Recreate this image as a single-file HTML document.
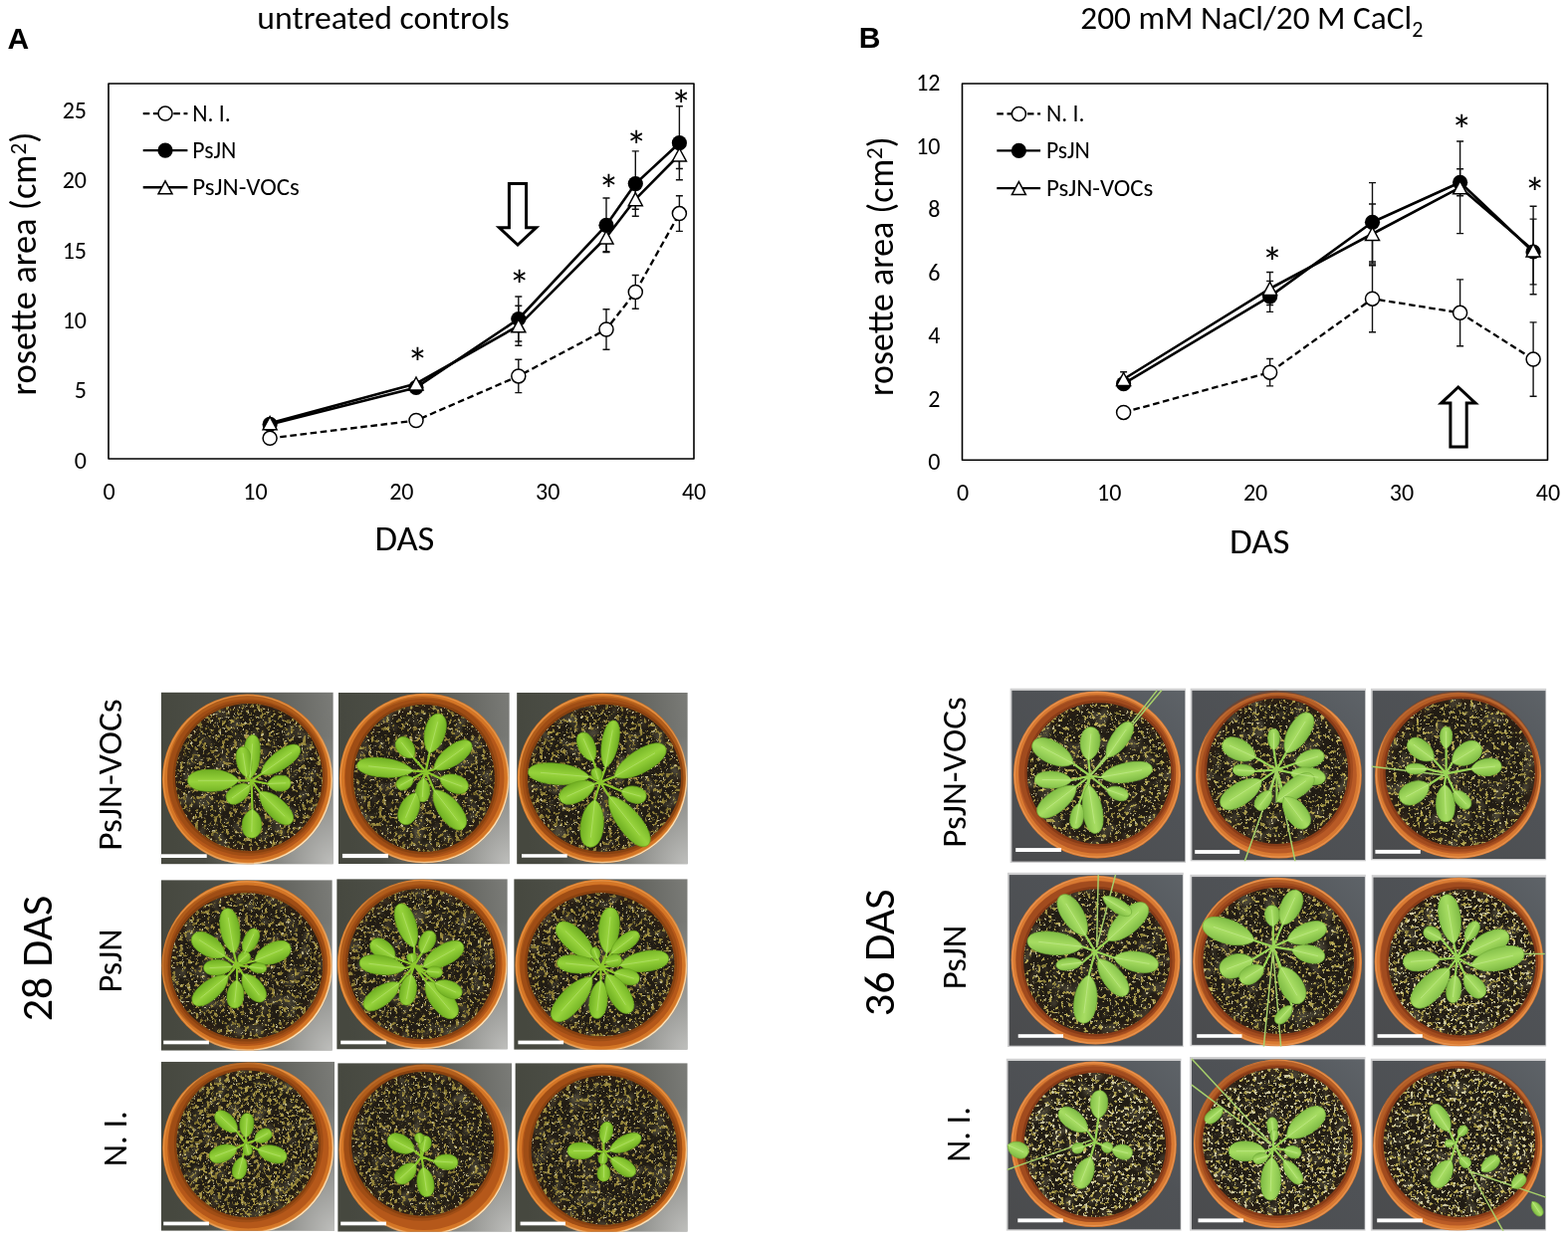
<!DOCTYPE html>
<html><head><meta charset="utf-8"><title>Figure</title>
<style>
html,body{margin:0;padding:0;background:#fff;}
svg{display:block;}
text{font-family:Carlito,"Liberation Sans",Arial,sans-serif;fill:#000;}
</style></head><body>
<svg width="1575" height="1247" viewBox="0 0 1575 1247">
<defs>
<linearGradient id="leafL" x1="0" y1="0" x2="0" y2="1">
 <stop offset="0" stop-color="#76b626"/><stop offset=".45" stop-color="#96d23c"/><stop offset=".55" stop-color="#92cf38"/><stop offset="1" stop-color="#6fae22"/>
</linearGradient>
<linearGradient id="leafR" x1="0" y1="0" x2="0" y2="1">
 <stop offset="0" stop-color="#84c04a"/><stop offset=".45" stop-color="#a6dc62"/><stop offset=".55" stop-color="#a2d95e"/><stop offset="1" stop-color="#7eba44"/>
</linearGradient>
<linearGradient id="bgL" x1="0" y1=".2" x2="1" y2=".1">
 <stop offset="0" stop-color="#46483f"/><stop offset=".45" stop-color="#4f514a"/><stop offset=".8" stop-color="#6a6b66"/><stop offset="1" stop-color="#7a7b77"/>
</linearGradient>
<radialGradient id="bgL2" cx="1" cy="1" r=".75">
 <stop offset="0" stop-color="#d8d8d6" stop-opacity=".75"/><stop offset=".5" stop-color="#c8c8c6" stop-opacity=".35"/><stop offset="1" stop-color="#c8c8c6" stop-opacity="0"/>
</radialGradient>
<linearGradient id="rimHL" x1="0" y1="0" x2="1" y2="1">
 <stop offset=".55" stop-color="#fff2d0" stop-opacity="0"/><stop offset=".85" stop-color="#fff2d0" stop-opacity=".9"/>
</linearGradient>
<linearGradient id="bgR" x1="0" y1="1" x2="1" y2="0">
 <stop offset="0" stop-color="#4a4b4d"/><stop offset=".6" stop-color="#4f5256"/><stop offset="1" stop-color="#5e6368"/>
</linearGradient>
<radialGradient id="potG" cx=".5" cy=".5" r=".5">
 <stop offset=".8" stop-color="#b8561a"/><stop offset=".9" stop-color="#c9651f"/><stop offset=".97" stop-color="#d97a34"/><stop offset="1" stop-color="#c8652a"/>
</radialGradient>
<radialGradient id="soilG" cx=".5" cy=".5" r=".5">
 <stop offset="0" stop-color="#221d15"/><stop offset=".88" stop-color="#211c14"/><stop offset="1" stop-color="#2e2014"/>
</radialGradient>
<filter id="spk0" x="0" y="0" width="1" height="1" color-interpolation-filters="sRGB">
 <feTurbulence type="fractalNoise" baseFrequency=".07" numOctaves="2" seed="2"/>
 <feColorMatrix type="matrix" values="0 0 0 0 .3  0 0 0 0 .28  0 0 0 0 .22  3 0 0 0 -1.5"/>
 <feComposite in2="SourceAlpha" operator="in"/>
</filter>
<filter id="spkA" x="0" y="0" width="1" height="1" color-interpolation-filters="sRGB">
 <feTurbulence type="fractalNoise" baseFrequency=".26" numOctaves="3" seed="4"/>
 <feColorMatrix type="matrix" values="0 .45 0 0 .34  0 .43 0 0 .29  0 .25 0 0 .1  11 0 0 0 -6.1"/>
 <feGaussianBlur stdDeviation=".5"/>
 <feComposite in2="SourceAlpha" operator="in"/>
</filter>
<filter id="spkB" x="0" y="0" width="1" height="1" color-interpolation-filters="sRGB">
 <feTurbulence type="fractalNoise" baseFrequency=".26" numOctaves="3" seed="9"/>
 <feColorMatrix type="matrix" values="0 .45 0 0 .36  0 .43 0 0 .31  0 .25 0 0 .11  11 0 0 0 -5.8"/>
 <feGaussianBlur stdDeviation=".5"/>
 <feComposite in2="SourceAlpha" operator="in"/>
</filter>
<filter id="spkR" x="0" y="0" width="1" height="1" color-interpolation-filters="sRGB">
 <feTurbulence type="fractalNoise" baseFrequency=".26" numOctaves="3" seed="5"/>
 <feColorMatrix type="matrix" values="0 .5 0 0 .4  0 .48 0 0 .36  0 .3 0 0 .14  12 0 0 0 -7"/>
 <feGaussianBlur stdDeviation=".5"/>
 <feComposite in2="SourceAlpha" operator="in"/>
</filter>
<filter id="spkW2" x="0" y="0" width="1" height="1" color-interpolation-filters="sRGB">
 <feTurbulence type="fractalNoise" baseFrequency=".3" numOctaves="2" seed="17"/>
 <feColorMatrix type="matrix" values="0 0 0 0 .82  0 0 0 0 .8  0 0 0 0 .64  0 13 0 0 -7.9"/>
 <feGaussianBlur stdDeviation=".45"/>
 <feComposite in2="SourceAlpha" operator="in"/>
</filter>
<filter id="spkW" x="0" y="0" width="1" height="1" color-interpolation-filters="sRGB">
 <feTurbulence type="fractalNoise" baseFrequency=".35" numOctaves="2" seed="11"/>
 <feColorMatrix type="matrix" values="0 0 0 0 .75  0 0 0 0 .72  0 0 0 0 .55  0 14 0 0 -9.4"/>
 <feGaussianBlur stdDeviation=".4"/>
 <feComposite in2="SourceAlpha" operator="in"/>
</filter>
</defs>
<rect width="1575" height="1247" fill="#fff"/>
<text x="258.3" y="28.8" font-size="33.7" textLength="253.5" lengthAdjust="spacingAndGlyphs">untreated controls</text>
<text x="1085.3" y="28.6" font-size="33.3" textLength="344" lengthAdjust="spacingAndGlyphs">200 mM NaCl/20 M CaCl<tspan font-size="22" dy="8">2</tspan></text>
<text x="7.4" y="48.6" style="font-family:&quot;Liberation Sans&quot;,Arial,sans-serif;font-weight:bold;font-size:30px">A</text>
<text x="862.8" y="48" style="font-family:&quot;Liberation Sans&quot;,Arial,sans-serif;font-weight:bold;font-size:30px">B</text>
<rect x="109" y="84" width="588" height="377" fill="none" stroke="#000" stroke-width="1.6" stroke-linejoin="round"/>
<text x="87" y="470.5" text-anchor="end" font-size="24">0</text>
<text x="87" y="400.2" text-anchor="end" font-size="24">5</text>
<text x="87" y="329.9" text-anchor="end" font-size="24">10</text>
<text x="87" y="259.6" text-anchor="end" font-size="24">15</text>
<text x="87" y="189.3" text-anchor="end" font-size="24">20</text>
<text x="87" y="119" text-anchor="end" font-size="24">25</text>
<text x="109.5" y="501.5" text-anchor="middle" font-size="24">0</text>
<text x="256.4" y="501.5" text-anchor="middle" font-size="24">10</text>
<text x="403.3" y="501.5" text-anchor="middle" font-size="24">20</text>
<text x="550.2" y="501.5" text-anchor="middle" font-size="24">30</text>
<text x="697.1" y="501.5" text-anchor="middle" font-size="24">40</text>
<path d="M520.8 361.2V394.6M517.3 361.2H524.3M517.3 394.6H524.3" stroke="#111" stroke-width="1.4" fill="none"/>
<path d="M609 310.8V351.2M605.5 310.8H612.5M605.5 351.2H612.5" stroke="#111" stroke-width="1.4" fill="none"/>
<path d="M638.3 276.5V310.3M634.8 276.5H641.8M634.8 310.3H641.8" stroke="#111" stroke-width="1.4" fill="none"/>
<path d="M682.4 196.8V232.4M678.9 196.8H685.9M678.9 232.4H685.9" stroke="#111" stroke-width="1.4" fill="none"/>
<path d="M520.8 298V343M517.3 298H524.3M517.3 343H524.3" stroke="#111" stroke-width="1.4" fill="none"/>
<path d="M609 199V253.6M605.5 199H612.5M605.5 253.6H612.5" stroke="#111" stroke-width="1.4" fill="none"/>
<path d="M638.3 151.9V217.3M634.8 151.9H641.8M634.8 217.3H641.8" stroke="#111" stroke-width="1.4" fill="none"/>
<path d="M682.4 106.7V180.7M678.9 106.7H685.9M678.9 180.7H685.9" stroke="#111" stroke-width="1.4" fill="none"/>
<path d="M520.8 307.3V347.3M517.3 307.3H524.3M517.3 347.3H524.3" stroke="#111" stroke-width="1.4" fill="none"/>
<path d="M609 224.2V252.8M605.5 224.2H612.5M605.5 252.8H612.5" stroke="#111" stroke-width="1.4" fill="none"/>
<path d="M638.3 190.2V210.2M634.8 190.2H641.8M634.8 210.2H641.8" stroke="#111" stroke-width="1.4" fill="none"/>
<path d="M682.4 141.5V169.5M678.9 141.5H685.9M678.9 169.5H685.9" stroke="#111" stroke-width="1.4" fill="none"/>
<path d="M271.1 440.3L418 422.5L520.8 377.9L609 331L638.3 293.4L682.4 214.6" fill="none" stroke="#000" stroke-width="2.3" stroke-dasharray="6.6 3.6" stroke-linecap="butt" stroke-linejoin="round"/>
<path d="M271.1 425.2L418 385.5L520.8 327.3L609 238.5L638.3 200.2L682.4 155.5" fill="none" stroke="#000" stroke-width="2.6" stroke-linejoin="round"/>
<path d="M271.1 426.4L418 389.4L520.8 320.5L609 226.3L638.3 184.6L682.4 143.7" fill="none" stroke="#000" stroke-width="2.6" stroke-linejoin="round"/>
<circle cx="271.1" cy="440.3" r="7" fill="#fff" stroke="#000" stroke-width="1.5"/>
<circle cx="418" cy="422.5" r="7" fill="#fff" stroke="#000" stroke-width="1.5"/>
<circle cx="520.8" cy="377.9" r="7" fill="#fff" stroke="#000" stroke-width="1.5"/>
<circle cx="609" cy="331" r="7" fill="#fff" stroke="#000" stroke-width="1.5"/>
<circle cx="638.3" cy="293.4" r="7" fill="#fff" stroke="#000" stroke-width="1.5"/>
<circle cx="682.4" cy="214.6" r="7" fill="#fff" stroke="#000" stroke-width="1.5"/>
<circle cx="271.1" cy="426.4" r="7.6" fill="#000"/>
<circle cx="418" cy="389.4" r="7.6" fill="#000"/>
<circle cx="520.8" cy="320.5" r="7.6" fill="#000"/>
<circle cx="609" cy="226.3" r="7.6" fill="#000"/>
<circle cx="638.3" cy="184.6" r="7.6" fill="#000"/>
<circle cx="682.4" cy="143.7" r="7.6" fill="#000"/>
<path d="M271.1 418.7L278.1 431.7L264.1 431.7Z" fill="#fff" stroke="#000" stroke-width="1.5" stroke-linejoin="miter"/>
<path d="M418 379L425 392L411 392Z" fill="#fff" stroke="#000" stroke-width="1.5" stroke-linejoin="miter"/>
<path d="M520.8 320.8L527.8 333.8L513.8 333.8Z" fill="#fff" stroke="#000" stroke-width="1.5" stroke-linejoin="miter"/>
<path d="M609 232L616 245L602 245Z" fill="#fff" stroke="#000" stroke-width="1.5" stroke-linejoin="miter"/>
<path d="M638.3 193.7L645.3 206.7L631.3 206.7Z" fill="#fff" stroke="#000" stroke-width="1.5" stroke-linejoin="miter"/>
<path d="M682.4 149L689.4 162L675.4 162Z" fill="#fff" stroke="#000" stroke-width="1.5" stroke-linejoin="miter"/>
<text x="419.4" y="379.9" text-anchor="middle" font-size="43">*</text>
<text x="521.7" y="302.3" text-anchor="middle" font-size="43">*</text>
<text x="611.4" y="206.4" text-anchor="middle" font-size="43">*</text>
<text x="639.2" y="161.7" text-anchor="middle" font-size="43">*</text>
<text x="684.3" y="121.3" text-anchor="middle" font-size="43">*</text>
<path d="M143.7 114.1H188.4" stroke="#000" stroke-width="2.2" stroke-dasharray="6.6 3.6"/>
<circle cx="166" cy="114.1" r="7" fill="#fff" stroke="#000" stroke-width="1.5"/>
<path d="M143.7 151.1H188.4M143.7 188.3H188.4" stroke="#000" stroke-width="2.4"/>
<circle cx="166" cy="151.1" r="7.6" fill="#000"/>
<path d="M166 181.8L173 194.8L159 194.8Z" fill="#fff" stroke="#000" stroke-width="1.5" stroke-linejoin="miter"/>
<text x="193.3" y="121.7" font-size="24" textLength="38.5" lengthAdjust="spacingAndGlyphs">N. I.</text>
<text x="193.3" y="158.7" font-size="24" textLength="44" lengthAdjust="spacingAndGlyphs">PsJN</text>
<text x="193.3" y="195.9" font-size="24" textLength="107.5" lengthAdjust="spacingAndGlyphs">PsJN-VOCs</text>
<text transform="translate(36.3 397.6) rotate(-90)" font-size="36" textLength="265" lengthAdjust="spacingAndGlyphs">rosette area (cm<tspan font-size="23" dy="-10.5">2</tspan><tspan dy="10.5">)</tspan></text>
<text x="376.4" y="552.5" font-size="35" textLength="60" lengthAdjust="spacingAndGlyphs">DAS</text>
<path d="M511.4 184.5H528.6V228.8H538.5L520 246L501.5 228.8H511.4Z" fill="#fff" stroke="#000" stroke-width="3" stroke-linejoin="miter" stroke-miterlimit="10"/>
<rect x="966.5" y="84" width="588" height="378.3" fill="none" stroke="#000" stroke-width="1.6" stroke-linejoin="round"/>
<text x="944.5" y="471.9" text-anchor="end" font-size="24">0</text>
<text x="944.5" y="408.5" text-anchor="end" font-size="24">2</text>
<text x="944.5" y="345" text-anchor="end" font-size="24">4</text>
<text x="944.5" y="281.6" text-anchor="end" font-size="24">6</text>
<text x="944.5" y="218.2" text-anchor="end" font-size="24">8</text>
<text x="944.5" y="154.8" text-anchor="end" font-size="24">10</text>
<text x="944.5" y="91.3" text-anchor="end" font-size="24">12</text>
<text x="967.2" y="503.3" text-anchor="middle" font-size="24">0</text>
<text x="1114.2" y="503.3" text-anchor="middle" font-size="24">10</text>
<text x="1261.1" y="503.3" text-anchor="middle" font-size="24">20</text>
<text x="1408" y="503.3" text-anchor="middle" font-size="24">30</text>
<text x="1555" y="503.3" text-anchor="middle" font-size="24">40</text>
<path d="M1275.6 360.5V387.9M1272.1 360.5H1279.1M1272.1 387.9H1279.1" stroke="#111" stroke-width="1.4" fill="none"/>
<path d="M1378.5 266.7V333.7M1375 266.7H1382M1375 333.7H1382" stroke="#111" stroke-width="1.4" fill="none"/>
<path d="M1466.6 280.9V347.7M1463.1 280.9H1470.1M1463.1 347.7H1470.1" stroke="#111" stroke-width="1.4" fill="none"/>
<path d="M1540.1 323.9V398.3M1536.6 323.9H1543.6M1536.6 398.3H1543.6" stroke="#111" stroke-width="1.4" fill="none"/>
<path d="M1275.6 282.4V313.4M1272.1 282.4H1279.1M1272.1 313.4H1279.1" stroke="#111" stroke-width="1.4" fill="none"/>
<path d="M1378.5 183.6V263M1375 183.6H1382M1375 263H1382" stroke="#111" stroke-width="1.4" fill="none"/>
<path d="M1466.6 169.8V196.8M1463.1 169.8H1470.1M1463.1 196.8H1470.1" stroke="#111" stroke-width="1.4" fill="none"/>
<path d="M1540.1 220.1V285.9M1536.6 220.1H1543.6M1536.6 285.9H1543.6" stroke="#111" stroke-width="1.4" fill="none"/>
<path d="M1128.6 373.8V388.2M1125.1 373.8H1132.1M1125.1 388.2H1132.1" stroke="#111" stroke-width="1.4" fill="none"/>
<path d="M1275.6 273.5V306.5M1272.1 273.5H1279.1M1272.1 306.5H1279.1" stroke="#111" stroke-width="1.4" fill="none"/>
<path d="M1378.5 205V265M1375 205H1382M1375 265H1382" stroke="#111" stroke-width="1.4" fill="none"/>
<path d="M1466.6 142V234.6M1463.1 142H1470.1M1463.1 234.6H1470.1" stroke="#111" stroke-width="1.4" fill="none"/>
<path d="M1540.1 207.2V295.8M1536.6 207.2H1543.6M1536.6 295.8H1543.6" stroke="#111" stroke-width="1.4" fill="none"/>
<path d="M1128.6 414.4L1275.6 374.2L1378.5 300.2L1466.6 314.3L1540.1 361.1" fill="none" stroke="#000" stroke-width="2.3" stroke-dasharray="6.6 3.6" stroke-linecap="butt" stroke-linejoin="round"/>
<path d="M1128.6 381L1275.6 290L1378.5 235L1466.6 188.3L1540.1 251.5" fill="none" stroke="#000" stroke-width="2.6" stroke-linejoin="round"/>
<path d="M1128.6 385.7L1275.6 297.9L1378.5 223.3L1466.6 183.3L1540.1 253" fill="none" stroke="#000" stroke-width="2.6" stroke-linejoin="round"/>
<circle cx="1128.6" cy="414.4" r="7" fill="#fff" stroke="#000" stroke-width="1.5"/>
<circle cx="1275.6" cy="374.2" r="7" fill="#fff" stroke="#000" stroke-width="1.5"/>
<circle cx="1378.5" cy="300.2" r="7" fill="#fff" stroke="#000" stroke-width="1.5"/>
<circle cx="1466.6" cy="314.3" r="7" fill="#fff" stroke="#000" stroke-width="1.5"/>
<circle cx="1540.1" cy="361.1" r="7" fill="#fff" stroke="#000" stroke-width="1.5"/>
<circle cx="1128.6" cy="385.7" r="7.6" fill="#000"/>
<circle cx="1275.6" cy="297.9" r="7.6" fill="#000"/>
<circle cx="1378.5" cy="223.3" r="7.6" fill="#000"/>
<circle cx="1466.6" cy="183.3" r="7.6" fill="#000"/>
<circle cx="1540.1" cy="253" r="7.6" fill="#000"/>
<path d="M1128.6 374.5L1135.6 387.5L1121.6 387.5Z" fill="#fff" stroke="#000" stroke-width="1.5" stroke-linejoin="miter"/>
<path d="M1275.6 283.5L1282.6 296.5L1268.6 296.5Z" fill="#fff" stroke="#000" stroke-width="1.5" stroke-linejoin="miter"/>
<path d="M1378.5 228.5L1385.5 241.5L1371.5 241.5Z" fill="#fff" stroke="#000" stroke-width="1.5" stroke-linejoin="miter"/>
<path d="M1466.6 181.8L1473.6 194.8L1459.6 194.8Z" fill="#fff" stroke="#000" stroke-width="1.5" stroke-linejoin="miter"/>
<path d="M1540.1 245L1547.1 258L1533.1 258Z" fill="#fff" stroke="#000" stroke-width="1.5" stroke-linejoin="miter"/>
<text x="1277.9" y="278.8" text-anchor="middle" font-size="43">*</text>
<text x="1468.2" y="146" text-anchor="middle" font-size="43">*</text>
<text x="1541.8" y="208.8" text-anchor="middle" font-size="43">*</text>
<path d="M1001.3 114.4H1045.1" stroke="#000" stroke-width="2.2" stroke-dasharray="6.6 3.6"/>
<circle cx="1023.4" cy="114.4" r="7" fill="#fff" stroke="#000" stroke-width="1.5"/>
<path d="M1001.3 151.4H1045.1M1001.3 189.1H1045.1" stroke="#000" stroke-width="2.4"/>
<circle cx="1023.4" cy="151.4" r="7.6" fill="#000"/>
<path d="M1023.4 182.6L1030.4 195.6L1016.4 195.6Z" fill="#fff" stroke="#000" stroke-width="1.5" stroke-linejoin="miter"/>
<text x="1050.9" y="122" font-size="24" textLength="38.5" lengthAdjust="spacingAndGlyphs">N. I.</text>
<text x="1050.9" y="159" font-size="24" textLength="44" lengthAdjust="spacingAndGlyphs">PsJN</text>
<text x="1050.9" y="196.7" font-size="24" textLength="107.5" lengthAdjust="spacingAndGlyphs">PsJN-VOCs</text>
<text transform="translate(896.5 397.9) rotate(-90)" font-size="36" textLength="260.5" lengthAdjust="spacingAndGlyphs">rosette area (cm<tspan font-size="23" dy="-10.5">2</tspan><tspan dy="10.5">)</tspan></text>
<text x="1235" y="556" font-size="35" textLength="60.5" lengthAdjust="spacingAndGlyphs">DAS</text>
<path d="M1456.9 449.1H1473.2V405.1H1482L1464.8 389L1447.6 405.1H1456.9Z" fill="#fff" stroke="#000" stroke-width="3" stroke-linejoin="miter" stroke-miterlimit="10"/>
<clipPath id="cL11"><rect x="161.7" y="695.6" width="173.1" height="172.8"/></clipPath>
<g clip-path="url(#cL11)">
<rect x="161.7" y="695.6" width="173.1" height="172.8" fill="url(#bgL)"/>
<rect x="161.7" y="695.6" width="173.1" height="172.8" fill="url(#bgL2)"/>
<circle cx="248.5" cy="783" r="85.5" fill="#d47626"/>
<circle cx="248.5" cy="783" r="84.2" fill="none" stroke="#e8984c" stroke-width="1.2" opacity=".8"/>
<circle cx="248.5" cy="783" r="84.9" fill="none" stroke="url(#rimHL)" stroke-width="1.3"/>
<circle cx="248.5" cy="783" r="80.5" fill="#b5581a"/>
<ellipse cx="248.5" cy="779.5" rx="80.5" ry="80.5" fill="#84400f" opacity=".45"/>
<ellipse cx="250" cy="781" rx="76.5" ry="76.5" fill="#84400f" opacity=".9"/>
<ellipse cx="250" cy="781" rx="74" ry="74" fill="url(#soilG)"/>
<ellipse cx="250" cy="781" rx="74" ry="74" fill="#000" filter="url(#spk0)"/>
<ellipse cx="250" cy="781" rx="74" ry="74" fill="#000" filter="url(#spkA)"/>
<ellipse cx="250" cy="781" rx="74" ry="74" fill="#000" filter="url(#spkW)"/>
<path d="M252.6 784.3L251 782.6M252.6 784.3L247.8 781M252.6 784.3L262.3 777.8M252.6 784.3L268.7 787.5M252.6 784.3L260.7 795.5M252.6 784.3L253.4 813.1M252.6 784.3L251 789.1M252.6 784.3L239.8 784.3" stroke="#8cc82c" stroke-width="2.2" fill="none" stroke-linecap="round"/>
<g fill="url(#leafL)" stroke="#68a41c" stroke-width=".7"><path transform="translate(251 782.6) rotate(-85.8)" d="M0 0C3.5 -4.6 12.4 -8.3 24.8 -8.3C38 -8.3 44.2 -4.6 44.2 0C44.2 4.6 38 8.3 24.8 8.3C12.4 8.3 3.5 4.6 0 0Z"/><path transform="translate(247.8 781) rotate(-99)" d="M0 0C2.5 -4.2 8.6 -7.6 17.3 -7.6C26.5 -7.6 30.9 -4.2 30.9 0C30.9 4.2 26.5 7.6 17.3 7.6C8.6 7.6 2.5 4.2 0 0Z"/><path transform="translate(262.3 777.8) rotate(-35.3)" d="M0 0C3.8 -4.9 13.2 -9 26.4 -9C40.6 -9 47.2 -4.9 47.2 0C47.2 4.9 40.6 9 26.4 9C13.2 9 3.8 4.9 0 0Z"/><path transform="translate(268.7 787.5) rotate(-2)" d="M0 0C1.9 -4.4 6.5 -7.9 13 -7.9C20 -7.9 23.3 -4.4 23.3 0C23.3 4.4 20 7.9 13 7.9C6.5 7.9 1.9 4.4 0 0Z"/><path transform="translate(260.7 795.5) rotate(44.3)" d="M0 0C3.6 -5.3 12.5 -9.7 25.1 -9.7C38.5 -9.7 44.8 -5.3 44.8 0C44.8 5.3 38.5 9.7 25.1 9.7C12.5 9.7 3.6 5.3 0 0Z"/><path transform="translate(253.4 813.1) rotate(91.6)" d="M0 0C2.3 -5.3 8.1 -9.7 16.2 -9.7C24.8 -9.7 28.9 -5.3 28.9 0C28.9 5.3 24.8 9.7 16.2 9.7C8.1 9.7 2.3 5.3 0 0Z"/><path transform="translate(251 789.1) rotate(144.5)" d="M0 0C2.2 -4.6 7.7 -8.3 15.5 -8.3C23.7 -8.3 27.6 -4.6 27.6 0C27.6 4.6 23.7 8.3 15.5 8.3C7.7 8.3 2.2 4.6 0 0Z"/><path transform="translate(239.8 784.3) rotate(180)" d="M0 0C4.1 -6.1 14.4 -11 28.7 -11C44.1 -11 51.3 -6.1 51.3 0C51.3 6.1 44.1 11 28.7 11C14.4 11 4.1 6.1 0 0Z"/></g>
<path d="M251 782.6L253.6 747.4M247.8 781L244 756.7M262.3 777.8L293.1 756M268.7 787.5L287.3 786.8M260.7 795.5L286.3 820.5M253.4 813.1L252.8 836.2M251 789.1L233.1 801.9M239.8 784.3L198.8 784.3" stroke="#b2e06a" stroke-width="1" fill="none" opacity=".8"/>
<rect x="162" y="858.3" width="45.7" height="3.7" fill="#fff"/>
</g>
<clipPath id="cL12"><rect x="339.8" y="695.9" width="172" height="172.4"/></clipPath>
<g clip-path="url(#cL12)">
<rect x="339.8" y="695.9" width="172" height="172.4" fill="url(#bgL)"/>
<rect x="339.8" y="695.9" width="172" height="172.4" fill="url(#bgL2)"/>
<circle cx="426.2" cy="782" r="85.3" fill="#d47626"/>
<circle cx="426.2" cy="782" r="84" fill="none" stroke="#e8984c" stroke-width="1.2" opacity=".8"/>
<circle cx="426.2" cy="782" r="84.7" fill="none" stroke="url(#rimHL)" stroke-width="1.3"/>
<circle cx="426.2" cy="782" r="80.3" fill="#b5581a"/>
<ellipse cx="424.4" cy="780.5" rx="77.5" ry="80.5" fill="#84400f" opacity=".45"/>
<ellipse cx="425.9" cy="782" rx="73.5" ry="76.5" fill="#84400f" opacity=".9"/>
<ellipse cx="425.9" cy="782" rx="71" ry="74" fill="url(#soilG)"/>
<ellipse cx="425.9" cy="782" rx="71" ry="74" fill="#000" filter="url(#spk0)"/>
<ellipse cx="425.9" cy="782" rx="71" ry="74" fill="#000" filter="url(#spkA)"/>
<ellipse cx="425.9" cy="782" rx="71" ry="74" fill="#000" filter="url(#spkW)"/>
<path d="M427.7 775.3L431.4 756.8M427.7 775.3L415.1 761.2M427.7 775.3L415.1 774.6M427.7 775.3L435.9 773.1M427.7 775.3L441.8 782M427.7 775.3L435.9 793.8M427.7 775.3L425.5 782M427.7 775.3L418.1 796.8M427.7 775.3L415.1 782" stroke="#8cc82c" stroke-width="2.2" fill="none" stroke-linecap="round"/>
<g fill="url(#leafL)" stroke="#68a41c" stroke-width=".7"><path transform="translate(431.4 756.8) rotate(-75.2)" d="M0 0C3.3 -5.6 11.4 -10.2 22.8 -10.2C35 -10.2 40.7 -5.6 40.7 0C40.7 5.6 35 10.2 22.8 10.2C11.4 10.2 3.3 5.6 0 0Z"/><path transform="translate(415.1 761.2) rotate(-127.6)" d="M0 0C1.9 -4.6 6.8 -8.3 13.6 -8.3C20.9 -8.3 24.3 -4.6 24.3 0C24.3 4.6 20.9 8.3 13.6 8.3C6.8 8.3 1.9 4.6 0 0Z"/><path transform="translate(415.1 774.6) rotate(-174)" d="M0 0C4.5 -5.3 15.9 -9.6 31.7 -9.6C48.7 -9.6 56.7 -5.3 56.7 0C56.7 5.3 48.7 9.6 31.7 9.6C15.9 9.6 4.5 5.3 0 0Z"/><path transform="translate(435.9 773.1) rotate(-35.8)" d="M0 0C3.7 -5.3 12.8 -9.6 25.6 -9.6C39.3 -9.6 45.7 -5.3 45.7 0C45.7 5.3 39.3 9.6 25.6 9.6C12.8 9.6 3.7 5.3 0 0Z"/><path transform="translate(441.8 782) rotate(20.2)" d="M0 0C2.4 -4.9 8.4 -8.9 16.8 -8.9C25.8 -8.9 30 -4.9 30 0C30 4.9 25.8 8.9 16.8 8.9C8.4 8.9 2.4 4.9 0 0Z"/><path transform="translate(435.9 793.8) rotate(52.4)" d="M0 0C3.9 -6 13.6 -10.8 27.3 -10.8C41.8 -10.8 48.7 -6 48.7 0C48.7 6 41.8 10.8 27.3 10.8C13.6 10.8 3.9 6 0 0Z"/><path transform="translate(425.5 782) rotate(93.6)" d="M0 0C1.9 -3.9 6.7 -7 13.3 -7C20.5 -7 23.8 -3.9 23.8 0C23.8 3.9 20.5 7 13.3 7C6.7 7 1.9 3.9 0 0Z"/><path transform="translate(418.1 796.8) rotate(113.2)" d="M0 0C2.7 -5.3 9.5 -9.6 19 -9.6C29.1 -9.6 33.9 -5.3 33.9 0C33.9 5.3 29.1 9.6 19 9.6C9.5 9.6 2.7 5.3 0 0Z"/><path transform="translate(415.1 782) rotate(151.4)" d="M0 0C1.5 -3.5 5.2 -6.4 10.4 -6.4C16 -6.4 18.6 -3.5 18.6 0C18.6 3.5 16 6.4 10.4 6.4C5.2 6.4 1.5 3.5 0 0Z"/></g>
<path d="M431.4 756.8L439.7 725.3M415.1 761.2L403.2 745.8M415.1 774.6L370 769.8M435.9 773.1L465.5 751.7M441.8 782L464.4 790.3M435.9 793.8L459.6 824.7M425.5 782L424.3 801M418.1 796.8L407.4 821.7M415.1 782L402.1 789.1" stroke="#b2e06a" stroke-width="1" fill="none" opacity=".8"/>
<rect x="343.9" y="857.9" width="46" height="4.2" fill="#fff"/>
</g>
<clipPath id="cL13"><rect x="519.1" y="695.9" width="171.7" height="172.5"/></clipPath>
<g clip-path="url(#cL13)">
<rect x="519.1" y="695.9" width="171.7" height="172.5" fill="url(#bgL)"/>
<rect x="519.1" y="695.9" width="171.7" height="172.5" fill="url(#bgL2)"/>
<circle cx="605" cy="782" r="85.3" fill="#d47626"/>
<circle cx="605" cy="782" r="84" fill="none" stroke="#e8984c" stroke-width="1.2" opacity=".8"/>
<circle cx="605" cy="782" r="84.7" fill="none" stroke="url(#rimHL)" stroke-width="1.3"/>
<circle cx="605" cy="782" r="80.3" fill="#b5581a"/>
<ellipse cx="605.5" cy="780.5" rx="83.5" ry="80.5" fill="#84400f" opacity=".45"/>
<ellipse cx="607" cy="782" rx="79.5" ry="76.5" fill="#84400f" opacity=".9"/>
<ellipse cx="607" cy="782" rx="77" ry="74" fill="url(#soilG)"/>
<ellipse cx="607" cy="782" rx="77" ry="74" fill="#000" filter="url(#spk0)"/>
<ellipse cx="607" cy="782" rx="77" ry="74" fill="#000" filter="url(#spkA)"/>
<ellipse cx="607" cy="782" rx="77" ry="74" fill="#000" filter="url(#spkW)"/>
<path d="M602.9 785.9L608.2 771.7M602.9 785.9L595.9 764.7M602.9 785.9L592.3 780.6M602.9 785.9L617 780.6M602.9 785.9L624.1 794.7M602.9 785.9L611.7 800M602.9 785.9L597.6 803.5M602.9 785.9L597.6 787.6M602.9 785.9L601.2 784.1" stroke="#8cc82c" stroke-width="2.2" fill="none" stroke-linecap="round"/>
<g fill="url(#leafL)" stroke="#68a41c" stroke-width=".7"><path transform="translate(608.2 771.7) rotate(-79.5)" d="M0 0C3.9 -4.6 13.6 -8.3 27.1 -8.3C41.7 -8.3 48.4 -4.6 48.4 0C48.4 4.6 41.7 8.3 27.1 8.3C13.6 8.3 3.9 4.6 0 0Z"/><path transform="translate(595.9 764.7) rotate(-113.6)" d="M0 0C2.5 -4.6 8.6 -8.3 17.3 -8.3C26.5 -8.3 30.8 -4.6 30.8 0C30.8 4.6 26.5 8.3 17.3 8.3C8.6 8.3 2.5 4.6 0 0Z"/><path transform="translate(592.3 780.6) rotate(-175.1)" d="M0 0C5 -5.8 17.4 -10.6 34.7 -10.6C53.3 -10.6 62 -5.8 62 0C62 5.8 53.3 10.6 34.7 10.6C17.4 10.6 5 5.8 0 0Z"/><path transform="translate(617 780.6) rotate(-30.4)" d="M0 0C4.7 -6.3 16.6 -11.4 33.2 -11.4C51 -11.4 59.3 -6.3 59.3 0C59.3 6.3 51 11.4 33.2 11.4C16.6 11.4 4.7 6.3 0 0Z"/><path transform="translate(624.1 794.7) rotate(15.9)" d="M0 0C2.1 -4.6 7.2 -8.3 14.4 -8.3C22.1 -8.3 25.7 -4.6 25.7 0C25.7 4.6 22.1 8.3 14.4 8.3C7.2 8.3 2.1 4.6 0 0Z"/><path transform="translate(611.7 800) rotate(51.8)" d="M0 0C5 -6.3 17.6 -11.4 35.2 -11.4C54 -11.4 62.8 -6.3 62.8 0C62.8 6.3 54 11.4 35.2 11.4C17.6 11.4 5 6.3 0 0Z"/><path transform="translate(597.6 803.5) rotate(96.3)" d="M0 0C3.8 -6.3 13.4 -11.4 26.8 -11.4C41.2 -11.4 47.9 -6.3 47.9 0C47.9 6.3 41.2 11.4 26.8 11.4C13.4 11.4 3.8 6.3 0 0Z"/><path transform="translate(597.6 787.6) rotate(155.8)" d="M0 0C3.1 -5.4 10.8 -9.9 21.7 -9.9C33.3 -9.9 38.7 -5.4 38.7 0C38.7 5.4 33.3 9.9 21.7 9.9C10.8 9.9 3.1 5.4 0 0Z"/><path transform="translate(601.2 784.1) rotate(-105.9)" d="M0 0C1 -2.9 3.6 -5.3 7.2 -5.3C11 -5.3 12.8 -2.9 12.8 0C12.8 2.9 11 5.3 7.2 5.3C3.6 5.3 1 2.9 0 0Z"/></g>
<path d="M608.2 771.7L615.3 733.6M595.9 764.7L586 742.1M592.3 780.6L542.9 776.3M617 780.6L658 756.6M624.1 794.7L643.8 800.3M611.7 800L642.8 839.5M597.6 803.5L593.4 841.6M597.6 787.6L569.4 800.3M601.2 784.1L598.3 774.2" stroke="#b2e06a" stroke-width="1" fill="none" opacity=".8"/>
<rect x="524" y="858.2" width="45.7" height="3.5" fill="#fff"/>
</g>
<clipPath id="cL21"><rect x="161.7" y="884.2" width="172.1" height="171.5"/></clipPath>
<g clip-path="url(#cL21)">
<rect x="161.7" y="884.2" width="172.1" height="171.5" fill="url(#bgL)"/>
<rect x="161.7" y="884.2" width="172.1" height="171.5" fill="url(#bgL2)"/>
<circle cx="248.1" cy="970.3" r="85.7" fill="#d47626"/>
<circle cx="248.1" cy="970.3" r="84.4" fill="none" stroke="#e8984c" stroke-width="1.2" opacity=".8"/>
<circle cx="248.1" cy="970.3" r="85.1" fill="none" stroke="url(#rimHL)" stroke-width="1.3"/>
<circle cx="248.1" cy="970.3" r="80.7" fill="#b5581a"/>
<ellipse cx="246.2" cy="969.2" rx="82.9" ry="79.9" fill="#84400f" opacity=".45"/>
<ellipse cx="247.7" cy="970.7" rx="78.9" ry="75.9" fill="#84400f" opacity=".9"/>
<ellipse cx="247.7" cy="970.7" rx="76.4" ry="73.4" fill="url(#soilG)"/>
<ellipse cx="247.7" cy="970.7" rx="76.4" ry="73.4" fill="#000" filter="url(#spk0)"/>
<ellipse cx="247.7" cy="970.7" rx="76.4" ry="73.4" fill="#000" filter="url(#spkA)"/>
<ellipse cx="247.7" cy="970.7" rx="76.4" ry="73.4" fill="#000" filter="url(#spkW)"/>
<path d="M238.1 969.9L235.1 958.1M238.1 969.9L226.2 961M238.1 969.9L245.5 958.1M238.1 969.9L255.9 965.5M238.1 969.9L249.9 971.4M238.1 969.9L239.6 967M238.1 969.9L233.6 971.4M238.1 969.9L229.2 980.3M238.1 969.9L238.1 984.8M238.1 969.9L244 978.8" stroke="#8cc82c" stroke-width="2.2" fill="none" stroke-linecap="round"/>
<g fill="url(#leafL)" stroke="#68a41c" stroke-width=".7"><path transform="translate(235.1 958.1) rotate(-99.3)" d="M0 0C3.7 -5.3 12.8 -9.6 25.7 -9.6C39.4 -9.6 45.8 -5.3 45.8 0C45.8 5.3 39.4 9.6 25.7 9.6C12.8 9.6 3.7 5.3 0 0Z"/><path transform="translate(226.2 961) rotate(-147.5)" d="M0 0C3.1 -5.6 10.8 -10.2 21.7 -10.2C33.3 -10.2 38.7 -5.6 38.7 0C38.7 5.6 33.3 10.2 21.7 10.2C10.8 10.2 3.1 5.6 0 0Z"/><path transform="translate(245.5 958.1) rotate(-64.1)" d="M0 0C2.2 -3.9 7.6 -7 15.2 -7C23.4 -7 27.2 -3.9 27.2 0C27.2 3.9 23.4 7 15.2 7C7.6 7 2.2 3.9 0 0Z"/><path transform="translate(255.9 965.5) rotate(-22.6)" d="M0 0C3.1 -5.6 10.8 -10.2 21.6 -10.2C33.2 -10.2 38.6 -5.6 38.6 0C38.6 5.6 33.2 10.2 21.6 10.2C10.8 10.2 3.1 5.6 0 0Z"/><path transform="translate(249.9 971.4) rotate(7.1)" d="M0 0C1.4 -2.8 5 -5.1 10 -5.1C15.4 -5.1 17.9 -2.8 17.9 0C17.9 2.8 15.4 5.1 10 5.1C5 5.1 1.4 2.8 0 0Z"/><path transform="translate(239.6 967) rotate(-40.6)" d="M0 0C1.1 -3.2 3.8 -5.7 7.7 -5.7C11.8 -5.7 13.7 -3.2 13.7 0C13.7 3.2 11.8 5.7 7.7 5.7C3.8 5.7 1.1 3.2 0 0Z"/><path transform="translate(233.6 971.4) rotate(177.1)" d="M0 0C2.3 -4.2 8.1 -7.7 16.2 -7.7C24.9 -7.7 29 -4.2 29 0C29 4.2 24.9 7.7 16.2 7.7C8.1 7.7 2.3 4.2 0 0Z"/><path transform="translate(229.2 980.3) rotate(141)" d="M0 0C3.6 -5.3 12.6 -9.6 25.1 -9.6C38.6 -9.6 44.8 -5.3 44.8 0C44.8 5.3 38.6 9.6 25.1 9.6C12.6 9.6 3.6 5.3 0 0Z"/><path transform="translate(238.1 984.8) rotate(96)" d="M0 0C2.3 -4.6 7.9 -8.3 15.9 -8.3C24.4 -8.3 28.3 -4.6 28.3 0C28.3 4.6 24.4 8.3 15.9 8.3C7.9 8.3 2.3 4.6 0 0Z"/><path transform="translate(244 978.8) rotate(52.1)" d="M0 0C2.7 -4.9 9.5 -8.9 18.9 -8.9C29.1 -8.9 33.8 -4.9 33.8 0C33.8 4.9 29.1 8.9 18.9 8.9C9.5 8.9 2.7 4.9 0 0Z"/></g>
<path d="M235.1 958.1L229.2 921.9M226.2 961L200.1 944.4M245.5 958.1L255 938.5M255.9 965.5L284.4 953.6M249.9 971.4L264.2 973.2M239.6 967L247.9 959.9M233.6 971.4L210.5 972.6M229.2 980.3L201.3 1002.9M238.1 984.8L235.7 1007.3M244 978.8L260.6 1000.2" stroke="#b2e06a" stroke-width="1" fill="none" opacity=".8"/>
<rect x="164.2" y="1045.6" width="45.7" height="3.7" fill="#fff"/>
</g>
<clipPath id="cL22"><rect x="338.2" y="883.2" width="171.6" height="171.3"/></clipPath>
<g clip-path="url(#cL22)">
<rect x="338.2" y="883.2" width="171.6" height="171.3" fill="url(#bgL)"/>
<rect x="338.2" y="883.2" width="171.6" height="171.3" fill="url(#bgL2)"/>
<circle cx="424.2" cy="968.9" r="85.3" fill="#d47626"/>
<circle cx="424.2" cy="968.9" r="84" fill="none" stroke="#e8984c" stroke-width="1.2" opacity=".8"/>
<circle cx="424.2" cy="968.9" r="84.7" fill="none" stroke="url(#rimHL)" stroke-width="1.3"/>
<circle cx="424.2" cy="968.9" r="80.3" fill="#b5581a"/>
<ellipse cx="422" cy="967" rx="80.7" ry="82.1" fill="#84400f" opacity=".45"/>
<ellipse cx="423.5" cy="968.5" rx="76.7" ry="78.1" fill="#84400f" opacity=".9"/>
<ellipse cx="423.5" cy="968.5" rx="74.2" ry="75.6" fill="url(#soilG)"/>
<ellipse cx="423.5" cy="968.5" rx="74.2" ry="75.6" fill="#000" filter="url(#spk0)"/>
<ellipse cx="423.5" cy="968.5" rx="74.2" ry="75.6" fill="#000" filter="url(#spkA)"/>
<ellipse cx="423.5" cy="968.5" rx="74.2" ry="75.6" fill="#000" filter="url(#spkW)"/>
<path d="M416.1 969.9L416.1 952.1M416.1 969.9L423.5 958.1M416.1 969.9L425 971.4M416.1 969.9L427.9 975.9M416.1 969.9L396.8 962.5M416.1 969.9L407.2 972.9M416.1 969.9L401.2 987.7M416.1 969.9L413.1 978.8M416.1 969.9L427.9 986.3M416.1 969.9L436.8 987.7M416.1 969.9L414.6 967" stroke="#8cc82c" stroke-width="2.2" fill="none" stroke-linecap="round"/>
<g fill="url(#leafL)" stroke="#68a41c" stroke-width=".7"><path transform="translate(416.1 952.1) rotate(-108.7)" d="M0 0C3.7 -5.3 12.9 -9.6 25.9 -9.6C39.7 -9.6 46.2 -5.3 46.2 0C46.2 5.3 39.7 9.6 25.9 9.6C12.9 9.6 3.7 5.3 0 0Z"/><path transform="translate(423.5 958.1) rotate(-65)" d="M0 0C2 -4.2 6.9 -7.7 13.8 -7.7C21.1 -7.7 24.6 -4.2 24.6 0C24.6 4.2 21.1 7.7 13.8 7.7C6.9 7.7 2 4.2 0 0Z"/><path transform="translate(425 971.4) rotate(-29.1)" d="M0 0C3.7 -5.6 12.8 -10.2 25.7 -10.2C39.4 -10.2 45.8 -5.6 45.8 0C45.8 5.6 39.4 10.2 25.7 10.2C12.8 10.2 3.7 5.6 0 0Z"/><path transform="translate(427.9 975.9) rotate(5.2)" d="M0 0C1.3 -3.2 4.6 -5.7 9.2 -5.7C14.1 -5.7 16.4 -3.2 16.4 0C16.4 3.2 14.1 5.7 9.2 5.7C4.6 5.7 1.3 3.2 0 0Z"/><path transform="translate(396.8 962.5) rotate(-145.5)" d="M0 0C2.3 -4.9 8.1 -8.9 16.1 -8.9C24.8 -8.9 28.8 -4.9 28.8 0C28.8 4.9 24.8 8.9 16.1 8.9C8.1 8.9 2.3 4.9 0 0Z"/><path transform="translate(407.2 972.9) rotate(-172.6)" d="M0 0C3.7 -5.3 13 -9.6 26 -9.6C39.9 -9.6 46.4 -5.3 46.4 0C46.4 5.3 39.9 9.6 26 9.6C13 9.6 3.7 5.3 0 0Z"/><path transform="translate(401.2 987.7) rotate(144.1)" d="M0 0C3.4 -5.3 12 -9.6 24.1 -9.6C37 -9.6 43 -5.3 43 0C43 5.3 37 9.6 24.1 9.6C12 9.6 3.4 5.3 0 0Z"/><path transform="translate(413.1 978.8) rotate(100.8)" d="M0 0C2.5 -4.6 8.9 -8.3 17.8 -8.3C27.3 -8.3 31.7 -4.6 31.7 0C31.7 4.6 27.3 8.3 17.8 8.3C8.9 8.3 2.5 4.6 0 0Z"/><path transform="translate(427.9 986.3) rotate(50.2)" d="M0 0C3.7 -6 13 -10.8 26 -10.8C39.9 -10.8 46.3 -6 46.3 0C46.3 6 39.9 10.8 26 10.8C13 10.8 3.7 6 0 0Z"/><path transform="translate(436.8 987.7) rotate(24)" d="M0 0C2.3 -4.6 8.2 -8.3 16.4 -8.3C25.1 -8.3 29.2 -4.6 29.2 0C29.2 4.6 25.1 8.3 16.4 8.3C8.2 8.3 2.3 4.6 0 0Z"/><path transform="translate(414.6 967) rotate(-99.5)" d="M0 0C0.7 -2.8 2.5 -5.1 5.1 -5.1C7.8 -5.1 9 -2.8 9 0C9 2.8 7.8 5.1 5.1 5.1C2.5 5.1 0.7 2.8 0 0Z"/></g>
<path d="M416.1 952.1L404.2 917.1M423.5 958.1L431.8 940.3M425 971.4L457 953.6M427.9 975.9L441 977.1M396.8 962.5L377.8 949.5M407.2 972.9L370.4 968.2M401.2 987.7L373.4 1007.9M413.1 978.8L408.4 1003.8M427.9 986.3L451.7 1014.7M436.8 987.7L458.2 997.2M414.6 967L413.4 959.9" stroke="#b2e06a" stroke-width="1" fill="none" opacity=".8"/>
<rect x="342.2" y="1045.6" width="45.7" height="3.7" fill="#fff"/>
</g>
<clipPath id="cL23"><rect x="516.2" y="883.2" width="174.5" height="171.6"/></clipPath>
<g clip-path="url(#cL23)">
<rect x="516.2" y="883.2" width="174.5" height="171.6" fill="url(#bgL)"/>
<rect x="516.2" y="883.2" width="174.5" height="171.6" fill="url(#bgL2)"/>
<circle cx="603.8" cy="970" r="86.4" fill="#d47626"/>
<circle cx="603.8" cy="970" r="85.1" fill="none" stroke="#e8984c" stroke-width="1.2" opacity=".8"/>
<circle cx="603.8" cy="970" r="85.8" fill="none" stroke="url(#rimHL)" stroke-width="1.3"/>
<circle cx="603.8" cy="970" r="81.4" fill="#b5581a"/>
<ellipse cx="602" cy="967.8" rx="80.5" ry="78.5" fill="#84400f" opacity=".45"/>
<ellipse cx="603.5" cy="969.3" rx="76.5" ry="74.5" fill="#84400f" opacity=".9"/>
<ellipse cx="603.5" cy="969.3" rx="74" ry="72" fill="url(#soilG)"/>
<ellipse cx="603.5" cy="969.3" rx="74" ry="72" fill="#000" filter="url(#spk0)"/>
<ellipse cx="603.5" cy="969.3" rx="74" ry="72" fill="#000" filter="url(#spkA)"/>
<ellipse cx="603.5" cy="969.3" rx="74" ry="72" fill="#000" filter="url(#spkW)"/>
<path d="M603.5 971.4L609.4 958.1M603.5 971.4L596 962.5M603.5 971.4L613.8 958.1M603.5 971.4L622.7 969.9M603.5 971.4L616.8 977.4M603.5 971.4L607.9 967M603.5 971.4L602 971.4M603.5 971.4L594.6 981.8M603.5 971.4L603.5 984.8M603.5 971.4L609.4 978.8M603.5 971.4L600.5 964" stroke="#8cc82c" stroke-width="2.2" fill="none" stroke-linecap="round"/>
<g fill="url(#leafL)" stroke="#68a41c" stroke-width=".7"><path transform="translate(609.4 958.1) rotate(-84.5)" d="M0 0C3.7 -5.6 12.9 -10.2 25.9 -10.2C39.7 -10.2 46.2 -5.6 46.2 0C46.2 5.6 39.7 10.2 25.9 10.2C12.9 10.2 3.7 5.6 0 0Z"/><path transform="translate(596 962.5) rotate(-136.2)" d="M0 0C3.9 -6 13.8 -10.8 27.6 -10.8C42.4 -10.8 49.3 -6 49.3 0C49.3 6 42.4 10.8 27.6 10.8C13.8 10.8 3.9 6 0 0Z"/><path transform="translate(613.8 958.1) rotate(-37.1)" d="M0 0C2.8 -4.2 9.6 -7.7 19.3 -7.7C29.6 -7.7 34.4 -4.2 34.4 0C34.4 4.2 29.6 7.7 19.3 7.7C9.6 7.7 2.8 4.2 0 0Z"/><path transform="translate(622.7 969.9) rotate(-8.6)" d="M0 0C4 -5.6 13.9 -10.2 27.7 -10.2C42.6 -10.2 49.5 -5.6 49.5 0C49.5 5.6 42.6 10.2 27.7 10.2C13.9 10.2 4 5.6 0 0Z"/><path transform="translate(616.8 977.4) rotate(16.4)" d="M0 0C2.1 -4.2 7.4 -7.7 14.7 -7.7C22.6 -7.7 26.3 -4.2 26.3 0C26.3 4.2 22.6 7.7 14.7 7.7C7.4 7.7 2.1 4.2 0 0Z"/><path transform="translate(607.9 967) rotate(-10.3)" d="M0 0C1.3 -3.5 4.6 -6.4 9.3 -6.4C14.3 -6.4 16.6 -3.5 16.6 0C16.6 3.5 14.3 6.4 9.3 6.4C4.6 6.4 1.3 3.5 0 0Z"/><path transform="translate(602 971.4) rotate(-174)" d="M0 0C3.4 -4.9 11.9 -8.9 23.8 -8.9C36.6 -8.9 42.5 -4.9 42.5 0C42.5 4.9 36.6 8.9 23.8 8.9C11.9 8.9 3.4 4.9 0 0Z"/><path transform="translate(594.6 981.8) rotate(131.9)" d="M0 0C4.6 -6.3 16.2 -11.5 32.4 -11.5C49.7 -11.5 57.8 -6.3 57.8 0C57.8 6.3 49.7 11.5 32.4 11.5C16.2 11.5 4.6 6.3 0 0Z"/><path transform="translate(603.5 984.8) rotate(96.6)" d="M0 0C3.1 -4.9 10.9 -8.9 21.7 -8.9C33.4 -8.9 38.8 -4.9 38.8 0C38.8 4.9 33.4 8.9 21.7 8.9C10.9 8.9 3.1 4.9 0 0Z"/><path transform="translate(609.4 978.8) rotate(58.4)" d="M0 0C3.6 -5.6 12.7 -10.2 25.4 -10.2C38.9 -10.2 45.3 -5.6 45.3 0C45.3 5.6 38.9 10.2 25.4 10.2C12.7 10.2 3.6 5.6 0 0Z"/><path transform="translate(600.5 964) rotate(-110.6)" d="M0 0C1 -2.5 3.5 -4.5 7.1 -4.5C10.9 -4.5 12.7 -2.5 12.7 0C12.7 2.5 10.9 4.5 7.1 4.5C3.5 4.5 1 2.5 0 0Z"/></g>
<path d="M609.4 958.1L613 921.3M596 962.5L567.6 935.2M613.8 958.1L635.8 941.5M622.7 969.9L661.9 964M616.8 977.4L637 983.3M607.9 967L621 964.6M602 971.4L568.2 967.9M594.6 981.8L563.7 1016.2M603.5 984.8L599.9 1015.6M609.4 978.8L628.4 1009.7M600.5 964L596.9 954.5" stroke="#b2e06a" stroke-width="1" fill="none" opacity=".8"/>
<rect x="520.4" y="1045.6" width="45.7" height="3.7" fill="#fff"/>
</g>
<clipPath id="cL31"><rect x="161.7" y="1066.7" width="174.3" height="170.1"/></clipPath>
<g clip-path="url(#cL31)">
<rect x="161.7" y="1066.7" width="174.3" height="170.1" fill="url(#bgL)"/>
<rect x="161.7" y="1066.7" width="174.3" height="170.1" fill="url(#bgL2)"/>
<circle cx="249.2" cy="1153.4" r="86" fill="#d47626"/>
<circle cx="249.2" cy="1153.4" r="84.7" fill="none" stroke="#e8984c" stroke-width="1.2" opacity=".8"/>
<circle cx="249.2" cy="1153.4" r="85.4" fill="none" stroke="url(#rimHL)" stroke-width="1.3"/>
<circle cx="249.2" cy="1153.4" r="81" fill="#b5581a"/>
<ellipse cx="247" cy="1147.9" rx="77.7" ry="80.3" fill="#84400f" opacity=".45"/>
<ellipse cx="248.5" cy="1149.4" rx="73.7" ry="76.3" fill="#84400f" opacity=".9"/>
<ellipse cx="248.5" cy="1149.4" rx="71.2" ry="73.8" fill="url(#soilG)"/>
<ellipse cx="248.5" cy="1149.4" rx="71.2" ry="73.8" fill="#000" filter="url(#spk0)"/>
<ellipse cx="248.5" cy="1149.4" rx="71.2" ry="73.8" fill="#000" filter="url(#spkB)"/>
<ellipse cx="248.5" cy="1149.4" rx="71.2" ry="73.8" fill="#000" filter="url(#spkW)"/>
<path d="M247 1149L238.1 1137.1M247 1149L247 1143.1M247 1149L255.9 1146M247 1149L258.8 1154.9M247 1149L238.1 1153.5M247 1149L244 1162.4M247 1149L247 1149" stroke="#8cc82c" stroke-width="2.2" fill="none" stroke-linecap="round"/>
<g fill="url(#leafL)" stroke="#68a41c" stroke-width=".7"><path transform="translate(238.1 1137.1) rotate(-137.1)" d="M0 0C2.3 -4.2 7.9 -7.7 15.9 -7.7C24.4 -7.7 28.3 -4.2 28.3 0C28.3 4.2 24.4 7.7 15.9 7.7C7.9 7.7 2.3 4.2 0 0Z"/><path transform="translate(247 1143.1) rotate(-86.5)" d="M0 0C2 -3.9 6.9 -7 13.7 -7C21.1 -7 24.5 -3.9 24.5 0C24.5 3.9 21.1 7 13.7 7C6.9 7 2 3.9 0 0Z"/><path transform="translate(255.9 1146) rotate(-28.6)" d="M0 0C1.5 -3.5 5.2 -6.4 10.4 -6.4C16 -6.4 18.6 -3.5 18.6 0C18.6 3.5 16 6.4 10.4 6.4C5.2 6.4 1.5 3.5 0 0Z"/><path transform="translate(258.8 1154.9) rotate(17.1)" d="M0 0C2.4 -4.6 8.5 -8.3 16.9 -8.3C26 -8.3 30.3 -4.6 30.3 0C30.3 4.6 26 8.3 16.9 8.3C8.5 8.3 2.4 4.6 0 0Z"/><path transform="translate(238.1 1153.5) rotate(159.3)" d="M0 0C2.3 -4.6 8.2 -8.3 16.4 -8.3C25.2 -8.3 29.3 -4.6 29.3 0C29.3 4.6 25.2 8.3 16.4 8.3C8.2 8.3 2.3 4.6 0 0Z"/><path transform="translate(244 1162.4) rotate(104.9)" d="M0 0C1.8 -3.9 6.4 -7 12.9 -7C19.8 -7 23 -3.9 23 0C23 3.9 19.8 7 12.9 7C6.4 7 1.8 3.9 0 0Z"/><path transform="translate(247 1149) rotate(76)" d="M0 0C1 -2.5 3.4 -4.5 6.9 -4.5C10.5 -4.5 12.2 -2.5 12.2 0C12.2 2.5 10.5 4.5 6.9 4.5C3.4 4.5 1 2.5 0 0Z"/></g>
<path d="M238.1 1137.1L221.5 1121.7M247 1143.1L248.2 1123.5M255.9 1146L268.9 1138.9M258.8 1154.9L282 1162.1M238.1 1153.5L216.1 1161.8M244 1162.4L239.3 1180.2M247 1149L249.3 1158.5" stroke="#b2e06a" stroke-width="1" fill="none" opacity=".8"/>
<rect x="164.2" y="1227.6" width="45.7" height="3.7" fill="#fff"/>
</g>
<clipPath id="cL32"><rect x="339.2" y="1068.2" width="174.8" height="169.5"/></clipPath>
<g clip-path="url(#cL32)">
<rect x="339.2" y="1068.2" width="174.8" height="169.5" fill="url(#bgL)"/>
<rect x="339.2" y="1068.2" width="174.8" height="169.5" fill="url(#bgL2)"/>
<circle cx="426.1" cy="1155.3" r="85.7" fill="#d47626"/>
<circle cx="426.1" cy="1155.3" r="84.4" fill="none" stroke="#e8984c" stroke-width="1.2" opacity=".8"/>
<circle cx="426.1" cy="1155.3" r="85.1" fill="none" stroke="url(#rimHL)" stroke-width="1.3"/>
<circle cx="426.1" cy="1155.3" r="80.7" fill="#b5581a"/>
<ellipse cx="423.1" cy="1147.9" rx="78.1" ry="78.8" fill="#84400f" opacity=".45"/>
<ellipse cx="424.6" cy="1149.4" rx="74.1" ry="74.8" fill="#84400f" opacity=".9"/>
<ellipse cx="424.6" cy="1149.4" rx="71.6" ry="72.3" fill="url(#soilG)"/>
<ellipse cx="424.6" cy="1149.4" rx="71.6" ry="72.3" fill="#000" filter="url(#spk0)"/>
<ellipse cx="424.6" cy="1149.4" rx="71.6" ry="72.3" fill="#000" filter="url(#spkA)"/>
<ellipse cx="424.6" cy="1149.4" rx="71.6" ry="72.3" fill="#000" filter="url(#spkW)"/>
<path d="M423.5 1162.4L416.1 1156.4M423.5 1162.4L425 1157.9M423.5 1162.4L422 1149M423.5 1162.4L435.4 1166.8M423.5 1162.4L417.6 1169.8M423.5 1162.4L425 1172.7" stroke="#8cc82c" stroke-width="2.2" fill="none" stroke-linecap="round"/>
<g fill="url(#leafL)" stroke="#68a41c" stroke-width=".7"><path transform="translate(416.1 1156.4) rotate(-152.8)" d="M0 0C2.3 -4.9 8.2 -8.9 16.3 -8.9C25.1 -8.9 29.2 -4.9 29.2 0C29.2 4.9 25.1 8.9 16.3 8.9C8.2 8.9 2.3 4.9 0 0Z"/><path transform="translate(425 1157.9) rotate(-79.7)" d="M0 0C1.3 -3.5 4.6 -6.4 9.3 -6.4C14.3 -6.4 16.6 -3.5 16.6 0C16.6 3.5 14.3 6.4 9.3 6.4C4.6 6.4 1.3 3.5 0 0Z"/><path transform="translate(422 1149) rotate(-98.1)" d="M0 0C0.8 -2.5 2.9 -4.5 5.9 -4.5C9 -4.5 10.5 -2.5 10.5 0C10.5 2.5 9 4.5 5.9 4.5C2.9 4.5 0.8 2.5 0 0Z"/><path transform="translate(435.4 1166.8) rotate(3.5)" d="M0 0C2 -4.2 6.9 -7.7 13.7 -7.7C21.1 -7.7 24.5 -4.2 24.5 0C24.5 4.2 21.1 7.7 13.7 7.7C6.9 7.7 2 4.2 0 0Z"/><path transform="translate(417.6 1169.8) rotate(137.3)" d="M0 0C2.1 -4.6 7.3 -8.3 14.7 -8.3C22.6 -8.3 26.2 -4.6 26.2 0C26.2 4.6 22.6 8.3 14.7 8.3C7.3 8.3 2.1 4.6 0 0Z"/><path transform="translate(425 1172.7) rotate(81.5)" d="M0 0C2.4 -4.6 8.4 -8.3 16.8 -8.3C25.8 -8.3 30 -4.6 30 0C30 4.6 25.8 8.3 16.8 8.3C8.4 8.3 2.4 4.6 0 0Z"/></g>
<path d="M416.1 1156.4L395.3 1145.7M425 1157.9L427.3 1144.9M422 1149L420.8 1140.7M435.4 1166.8L454.9 1168M417.6 1169.8L402.1 1184M425 1172.7L428.5 1196.5" stroke="#b2e06a" stroke-width="1" fill="none" opacity=".8"/>
<rect x="342.2" y="1227.6" width="45.7" height="3.7" fill="#fff"/>
</g>
<clipPath id="cL33"><rect x="517.4" y="1068.2" width="173.3" height="169.5"/></clipPath>
<g clip-path="url(#cL33)">
<rect x="517.4" y="1068.2" width="173.3" height="169.5" fill="url(#bgL)"/>
<rect x="517.4" y="1068.2" width="173.3" height="169.5" fill="url(#bgL2)"/>
<circle cx="604.7" cy="1155" r="85.5" fill="#d47626"/>
<circle cx="604.7" cy="1155" r="84.2" fill="none" stroke="#e8984c" stroke-width="1.2" opacity=".8"/>
<circle cx="604.7" cy="1155" r="84.9" fill="none" stroke="url(#rimHL)" stroke-width="1.3"/>
<circle cx="604.7" cy="1155" r="80.5" fill="#b5581a"/>
<ellipse cx="605.5" cy="1154.2" rx="79.9" ry="81.4" fill="#84400f" opacity=".45"/>
<ellipse cx="607" cy="1155.7" rx="75.9" ry="77.4" fill="#84400f" opacity=".9"/>
<ellipse cx="607" cy="1155.7" rx="73.4" ry="74.9" fill="url(#soilG)"/>
<ellipse cx="607" cy="1155.7" rx="73.4" ry="74.9" fill="#000" filter="url(#spk0)"/>
<ellipse cx="607" cy="1155.7" rx="73.4" ry="74.9" fill="#000" filter="url(#spkA)"/>
<ellipse cx="607" cy="1155.7" rx="73.4" ry="74.9" fill="#000" filter="url(#spkW)"/>
<path d="M606.4 1157.9L606.4 1149M606.4 1157.9L599 1156.4M606.4 1157.9L612.4 1156.4M606.4 1157.9L613.8 1163.8M606.4 1157.9L606.4 1169.8M606.4 1157.9L606.4 1157.9" stroke="#8cc82c" stroke-width="2.2" fill="none" stroke-linecap="round"/>
<g fill="url(#leafL)" stroke="#68a41c" stroke-width=".7"><path transform="translate(606.4 1149) rotate(-78.3)" d="M0 0C1.8 -3.5 6.2 -6.4 12.3 -6.4C18.9 -6.4 22 -3.5 22 0C22 3.5 18.9 6.4 12.3 6.4C6.2 6.4 1.8 3.5 0 0Z"/><path transform="translate(599 1156.4) rotate(180)" d="M0 0C2.3 -4.6 8.1 -8.3 16.2 -8.3C24.9 -8.3 28.9 -4.6 28.9 0C28.9 4.6 24.9 8.3 16.2 8.3C8.1 8.3 2.3 4.6 0 0Z"/><path transform="translate(612.4 1156.4) rotate(-25.5)" d="M0 0C2.8 -4.2 9.7 -7.7 19.3 -7.7C29.7 -7.7 34.5 -4.2 34.5 0C34.5 4.2 29.7 7.7 19.3 7.7C9.7 7.7 2.8 4.2 0 0Z"/><path transform="translate(613.8 1163.8) rotate(34.5)" d="M0 0C2.3 -4.2 8.1 -7.7 16.1 -7.7C24.8 -7.7 28.8 -4.2 28.8 0C28.8 4.2 24.8 7.7 16.1 7.7C8.1 7.7 2.3 4.2 0 0Z"/><path transform="translate(606.4 1169.8) rotate(90)" d="M0 0C1.4 -3.5 4.8 -6.4 9.6 -6.4C14.7 -6.4 17.1 -3.5 17.1 0C17.1 3.5 14.7 6.4 9.6 6.4C4.8 6.4 1.4 3.5 0 0Z"/><path transform="translate(606.4 1157.9) rotate(97.1)" d="M0 0C1 -2.5 3.3 -4.5 6.7 -4.5C10.3 -4.5 12 -2.5 12 0C12 2.5 10.3 4.5 6.7 4.5C3.3 4.5 1 2.5 0 0Z"/></g>
<path d="M606.4 1149L610 1131.8M599 1156.4L575.9 1156.4M612.4 1156.4L637.3 1144.6M613.8 1163.8L632.8 1176.9M606.4 1169.8L606.4 1183.4M606.4 1157.9L605.2 1167.4" stroke="#b2e06a" stroke-width="1" fill="none" opacity=".8"/>
<rect x="522.6" y="1227.6" width="45.3" height="3.7" fill="#fff"/>
</g>
<clipPath id="cR11"><rect x="1014.4" y="691.4" width="176.8" height="175.7"/></clipPath>
<g clip-path="url(#cR11)">
<rect x="1014.4" y="691.4" width="176.8" height="175.7" fill="#cfcfd0"/>
<rect x="1016.4" y="693.9" width="173.8" height="171.7" fill="url(#bgR)"/>
<circle cx="1102" cy="778.4" r="84" fill="#d97a32"/>
<circle cx="1102" cy="778.4" r="82.7" fill="none" stroke="#eb9a58" stroke-width="1.2" opacity=".8"/>
<circle cx="1102" cy="778.4" r="79" fill="#b85a26"/>
<ellipse cx="1102.5" cy="775.6" rx="78.9" ry="77.4" fill="#843a16" opacity=".45"/>
<ellipse cx="1104" cy="777.1" rx="74.9" ry="73.4" fill="#843a16" opacity=".9"/>
<ellipse cx="1104" cy="777.1" rx="72.4" ry="70.9" fill="url(#soilG)"/>
<ellipse cx="1104" cy="777.1" rx="72.4" ry="70.9" fill="#000" filter="url(#spk0)"/>
<ellipse cx="1104" cy="777.1" rx="72.4" ry="70.9" fill="#000" filter="url(#spkR)"/>
<ellipse cx="1104" cy="777.1" rx="72.4" ry="70.9" fill="#000" filter="url(#spkW)"/>
<path d="M1094.9 779.5L1078.1 767.3M1094.9 779.5L1093.4 764.2M1094.9 779.5L1111.7 761.2M1094.9 779.5L1105.6 781M1094.9 779.5L1076.6 784M1094.9 779.5L1081.2 790.1M1094.9 779.5L1093.4 788.6M1094.9 779.5L1111.7 793.2M1094.9 779.5L1084.2 806.9" stroke="#9ad456" stroke-width="2.2" fill="none" stroke-linecap="round"/>
<path d="M1094.9 779.5L1166.5 694.1M1096.4 777.9L1161.9 694.1" stroke="#a6cf6a" stroke-width="1.5" fill="none" stroke-linecap="round"/>
<g fill="url(#leafR)" stroke="#74b03a" stroke-width=".7"><path transform="translate(1078.1 767.3) rotate(-152.2)" d="M0 0C3.7 -6.1 12.8 -11.1 25.6 -11.1C39.3 -11.1 45.7 -6.1 45.7 0C45.7 6.1 39.3 11.1 25.6 11.1C12.8 11.1 3.7 6.1 0 0Z"/><path transform="translate(1093.4 764.2) rotate(-84.8)" d="M0 0C2.7 -5.4 9.4 -9.8 18.8 -9.8C28.9 -9.8 33.7 -5.4 33.7 0C33.7 5.4 28.9 9.8 18.8 9.8C9.4 9.8 2.7 5.4 0 0Z"/><path transform="translate(1111.7 761.2) rotate(-55.2)" d="M0 0C3.4 -4.7 12 -8.5 23.9 -8.5C36.7 -8.5 42.7 -4.7 42.7 0C42.7 4.7 36.7 8.5 23.9 8.5C12 8.5 3.4 4.7 0 0Z"/><path transform="translate(1105.6 781) rotate(-10)" d="M0 0C4.2 -5.4 14.7 -9.8 29.5 -9.8C45.2 -9.8 52.6 -5.4 52.6 0C52.6 5.4 45.2 9.8 29.5 9.8C14.7 9.8 4.2 5.4 0 0Z"/><path transform="translate(1076.6 784) rotate(-178.8)" d="M0 0C3 -4.7 10.5 -8.5 20.9 -8.5C32.1 -8.5 37.3 -4.7 37.3 0C37.3 4.7 32.1 8.5 20.9 8.5C10.5 8.5 3 4.7 0 0Z"/><path transform="translate(1081.2 790.1) rotate(142.8)" d="M0 0C3.8 -5.8 13.4 -10.5 26.8 -10.5C41.1 -10.5 47.8 -5.8 47.8 0C47.8 5.8 41.1 10.5 26.8 10.5C13.4 10.5 3.8 5.8 0 0Z"/><path transform="translate(1093.4 788.6) rotate(81.1)" d="M0 0C3.9 -5.4 13.8 -9.8 27.6 -9.8C42.4 -9.8 49.3 -5.4 49.3 0C49.3 5.4 42.4 9.8 27.6 9.8C13.8 9.8 3.9 5.4 0 0Z"/><path transform="translate(1111.7 793.2) rotate(19.7)" d="M0 0C1.8 -3.6 6.3 -6.6 12.7 -6.6C19.5 -6.6 22.7 -3.6 22.7 0C22.7 3.6 19.5 6.6 12.7 6.6C6.3 6.6 1.8 3.6 0 0Z"/><path transform="translate(1084.2 806.9) rotate(100)" d="M0 0C2.1 -3.6 7.4 -6.6 14.7 -6.6C22.6 -6.6 26.3 -3.6 26.3 0C26.3 3.6 22.6 6.6 14.7 6.6C7.4 6.6 2.1 3.6 0 0Z"/></g>
<path d="M1078.1 767.3L1045.8 750.2M1093.4 764.2L1095.8 737.4M1111.7 761.2L1131.2 733.1M1105.6 781L1147 773.7M1076.6 784L1046.7 783.4M1081.2 790.1L1050.7 813.3M1093.4 788.6L1099.5 827.6M1111.7 793.2L1128.7 799.3M1084.2 806.9L1080.6 827.6" stroke="#bfe888" stroke-width="1" fill="none" opacity=".8"/>
<rect x="1020.2" y="852.1" width="45.8" height="3.9" fill="#fff"/>
</g>
<clipPath id="cR12"><rect x="1195.4" y="691.4" width="176.7" height="174.2"/></clipPath>
<g clip-path="url(#cR12)">
<rect x="1195.4" y="691.4" width="176.7" height="174.2" fill="#cfcfd0"/>
<rect x="1197.4" y="693.9" width="173.7" height="170.2" fill="url(#bgR)"/>
<circle cx="1284.4" cy="779.1" r="83.4" fill="#d97a32"/>
<circle cx="1284.4" cy="779.1" r="82.1" fill="none" stroke="#eb9a58" stroke-width="1.2" opacity=".8"/>
<circle cx="1284.4" cy="779.1" r="78.4" fill="#b85a26"/>
<ellipse cx="1281.6" cy="773.4" rx="77.5" ry="79.6" fill="#843a16" opacity=".45"/>
<ellipse cx="1283.1" cy="774.9" rx="73.5" ry="75.6" fill="#843a16" opacity=".9"/>
<ellipse cx="1283.1" cy="774.9" rx="71" ry="73.1" fill="url(#soilG)"/>
<ellipse cx="1283.1" cy="774.9" rx="71" ry="73.1" fill="#000" filter="url(#spk0)"/>
<ellipse cx="1283.1" cy="774.9" rx="71" ry="73.1" fill="#000" filter="url(#spkR)"/>
<ellipse cx="1283.1" cy="774.9" rx="71" ry="73.1" fill="#000" filter="url(#spkW)"/>
<path d="M1282.5 773.4L1261.2 761.2M1282.5 773.4L1279.5 753.6M1282.5 773.4L1291.7 756.6M1282.5 773.4L1300.8 767.3M1282.5 773.4L1296.2 776.4M1282.5 773.4L1261.2 774.9M1282.5 773.4L1267.3 784M1282.5 773.4L1282.5 805.4M1282.5 773.4L1290.1 800.8M1282.5 773.4L1276.4 794.7" stroke="#9ad456" stroke-width="2.2" fill="none" stroke-linecap="round"/>
<path d="M1282.5 773.4L1250.5 864.8M1282.5 776.4L1300.8 864.8" stroke="#a6cf6a" stroke-width="1.5" fill="none" stroke-linecap="round"/>
<g fill="url(#leafR)" stroke="#74b03a" stroke-width=".7"><path transform="translate(1261.2 761.2) rotate(-155.1)" d="M0 0C2.9 -5.8 10.1 -10.5 20.2 -10.5C31.1 -10.5 36.1 -5.8 36.1 0C36.1 5.8 31.1 10.5 20.2 10.5C10.1 10.5 2.9 5.8 0 0Z"/><path transform="translate(1279.5 753.6) rotate(-90)" d="M0 0C1.7 -3.2 6 -5.9 11.9 -5.9C18.3 -5.9 21.3 -3.2 21.3 0C21.3 3.2 18.3 5.9 11.9 5.9C6 5.9 1.7 3.2 0 0Z"/><path transform="translate(1291.7 756.6) rotate(-58.4)" d="M0 0C3.7 -5.8 13 -10.5 26 -10.5C40 -10.5 46.5 -5.8 46.5 0C46.5 5.8 40 10.5 26 10.5C13 10.5 3.7 5.8 0 0Z"/><path transform="translate(1300.8 767.3) rotate(-17.5)" d="M0 0C2.4 -4.7 8.5 -8.5 17 -8.5C26.1 -8.5 30.4 -4.7 30.4 0C30.4 4.7 26.1 8.5 17 8.5C8.5 8.5 2.4 4.7 0 0Z"/><path transform="translate(1296.2 776.4) rotate(9.9)" d="M0 0C2.8 -4.7 10 -8.5 19.9 -8.5C30.6 -8.5 35.6 -4.7 35.6 0C35.6 4.7 30.6 8.5 19.9 8.5C10 8.5 2.8 4.7 0 0Z"/><path transform="translate(1261.2 774.9) rotate(-176.2)" d="M0 0C1.8 -3.2 6.4 -5.9 12.8 -5.9C19.7 -5.9 22.9 -3.2 22.9 0C22.9 3.2 19.7 5.9 12.8 5.9C6.4 5.9 1.8 3.2 0 0Z"/><path transform="translate(1267.3 784) rotate(147.3)" d="M0 0C3.8 -6.1 13.4 -11.1 26.9 -11.1C41.3 -11.1 48 -6.1 48 0C48 6.1 41.3 11.1 26.9 11.1C13.4 11.1 3.8 6.1 0 0Z"/><path transform="translate(1282.5 805.4) rotate(-35.3)" d="M0 0C3.6 -5.4 12.5 -9.8 25.1 -9.8C38.5 -9.8 44.8 -5.4 44.8 0C44.8 5.4 38.5 9.8 25.1 9.8C12.5 9.8 3.6 5.4 0 0Z"/><path transform="translate(1290.1 800.8) rotate(53.1)" d="M0 0C3 -5.8 10.7 -10.5 21.3 -10.5C32.8 -10.5 38.1 -5.8 38.1 0C38.1 5.8 32.8 10.5 21.3 10.5C10.7 10.5 3 5.8 0 0Z"/><path transform="translate(1276.4 794.7) rotate(126.9)" d="M0 0C1.8 -4 6.4 -7.2 12.8 -7.2C19.7 -7.2 22.9 -4 22.9 0C22.9 4 19.7 7.2 12.8 7.2C6.4 7.2 1.8 4 0 0Z"/></g>
<path d="M1261.2 761.2L1235 749M1279.5 753.6L1279.5 736.5M1291.7 756.6L1311.2 724.9M1300.8 767.3L1324 760M1296.2 776.4L1324.3 781.3M1261.2 774.9L1242.9 773.7M1267.3 784L1235 804.8M1282.5 805.4L1311.8 784.6M1290.1 800.8L1308.4 825.2M1276.4 794.7L1265.5 809.3" stroke="#bfe888" stroke-width="1" fill="none" opacity=".8"/>
<rect x="1200.2" y="854.1" width="45" height="3.8" fill="#fff"/>
</g>
<clipPath id="cR13"><rect x="1376.7" y="691.6" width="176.7" height="172.9"/></clipPath>
<g clip-path="url(#cR13)">
<rect x="1376.7" y="691.6" width="176.7" height="172.9" fill="#cfcfd0"/>
<rect x="1378.7" y="694.1" width="173.7" height="168.9" fill="url(#bgR)"/>
<circle cx="1464.6" cy="779.2" r="83.5" fill="#d97a32"/>
<circle cx="1464.6" cy="779.2" r="82.2" fill="none" stroke="#eb9a58" stroke-width="1.2" opacity=".8"/>
<circle cx="1464.6" cy="779.2" r="78.5" fill="#b85a26"/>
<ellipse cx="1465.2" cy="775" rx="81.5" ry="80.8" fill="#843a16" opacity=".45"/>
<ellipse cx="1466.7" cy="776.5" rx="77.5" ry="76.8" fill="#843a16" opacity=".9"/>
<ellipse cx="1466.7" cy="776.5" rx="75" ry="74.3" fill="url(#soilG)"/>
<ellipse cx="1466.7" cy="776.5" rx="75" ry="74.3" fill="#000" filter="url(#spk0)"/>
<ellipse cx="1466.7" cy="776.5" rx="75" ry="74.3" fill="#000" filter="url(#spkR)"/>
<ellipse cx="1466.7" cy="776.5" rx="75" ry="74.3" fill="#000" filter="url(#spkW)"/>
<path d="M1452.6 777.3L1440.1 763.2M1452.6 777.3L1452.6 752.2M1452.6 777.3L1458.8 766.3M1452.6 777.3L1477.6 772.6M1452.6 777.3L1433.8 772.6M1452.6 777.3L1435.4 788.2M1452.6 777.3L1451 788.2M1452.6 777.3L1460.4 794.5" stroke="#9ad456" stroke-width="2.2" fill="none" stroke-linecap="round"/>
<path d="M1449.4 778.8L1378.3 770.2" stroke="#a6cf6a" stroke-width="1.5" fill="none" stroke-linecap="round"/>
<g fill="url(#leafR)" stroke="#74b03a" stroke-width=".7"><path transform="translate(1440.1 763.2) rotate(-143.1)" d="M0 0C2.5 -5.2 8.8 -9.4 17.5 -9.4C26.9 -9.4 31.3 -5.2 31.3 0C31.3 5.2 26.9 9.4 17.5 9.4C8.8 9.4 2.5 5.2 0 0Z"/><path transform="translate(1452.6 752.2) rotate(-90)" d="M0 0C1.8 -3.3 6.1 -6.1 12.3 -6.1C18.8 -6.1 21.9 -3.3 21.9 0C21.9 3.3 18.8 6.1 12.3 6.1C6.1 6.1 1.8 3.3 0 0Z"/><path transform="translate(1458.8 766.3) rotate(-31.4)" d="M0 0C2.6 -5.9 9.2 -10.8 18.5 -10.8C28.4 -10.8 33 -5.9 33 0C33 5.9 28.4 10.8 18.5 10.8C9.2 10.8 2.6 5.9 0 0Z"/><path transform="translate(1477.6 772.6) rotate(-5.9)" d="M0 0C2.5 -4.8 8.6 -8.7 17.2 -8.7C26.4 -8.7 30.7 -4.8 30.7 0C30.7 4.8 26.4 8.7 17.2 8.7C8.6 8.7 2.5 4.8 0 0Z"/><path transform="translate(1433.8 772.6) rotate(180)" d="M0 0C1.8 -3 6.1 -5.4 12.3 -5.4C18.8 -5.4 21.9 -3 21.9 0C21.9 3 18.8 5.4 12.3 5.4C6.1 5.4 1.8 3 0 0Z"/><path transform="translate(1435.4 788.2) rotate(151.6)" d="M0 0C2.6 -5.9 9.2 -10.8 18.4 -10.8C28.3 -10.8 32.9 -5.9 32.9 0C32.9 5.9 28.3 10.8 18.4 10.8C9.2 10.8 2.6 5.9 0 0Z"/><path transform="translate(1451 788.2) rotate(87.6)" d="M0 0C3 -5.2 10.5 -9.4 21 -9.4C32.3 -9.4 37.6 -5.2 37.6 0C37.6 5.2 32.3 9.4 21 9.4C10.5 9.4 3 5.2 0 0Z"/><path transform="translate(1460.4 794.5) rotate(47.7)" d="M0 0C1.9 -3.7 6.5 -6.7 13 -6.7C20 -6.7 23.2 -3.7 23.2 0C23.2 3.7 20 6.7 13 6.7C6.5 6.7 1.9 3.7 0 0Z"/></g>
<path d="M1440.1 763.2L1420 748.2M1452.6 752.2L1452.6 734.7M1458.8 766.3L1481.3 752.6M1477.6 772.6L1502 770.1M1433.8 772.6L1416.3 772.6M1435.4 788.2L1412.2 800.7M1451 788.2L1452.3 818.2M1460.4 794.5L1472.9 808.2" stroke="#bfe888" stroke-width="1" fill="none" opacity=".8"/>
<rect x="1381.4" y="853.9" width="45.4" height="3.9" fill="#fff"/>
</g>
<clipPath id="cR21"><rect x="1011.7" y="876.6" width="177.2" height="175.6"/></clipPath>
<g clip-path="url(#cR21)">
<rect x="1011.7" y="876.6" width="177.2" height="175.6" fill="#cfcfd0"/>
<rect x="1013.7" y="879.1" width="174.2" height="171.6" fill="url(#bgR)"/>
<circle cx="1100.5" cy="964.6" r="84.9" fill="#d97a32"/>
<circle cx="1100.5" cy="964.6" r="83.6" fill="none" stroke="#eb9a58" stroke-width="1.2" opacity=".8"/>
<circle cx="1100.5" cy="964.6" r="79.9" fill="#b85a26"/>
<ellipse cx="1100.1" cy="964.7" rx="80" ry="79.2" fill="#843a16" opacity=".45"/>
<ellipse cx="1101.6" cy="966.2" rx="76" ry="75.2" fill="#843a16" opacity=".9"/>
<ellipse cx="1101.6" cy="966.2" rx="73.5" ry="72.7" fill="url(#soilG)"/>
<ellipse cx="1101.6" cy="966.2" rx="73.5" ry="72.7" fill="#000" filter="url(#spk0)"/>
<ellipse cx="1101.6" cy="966.2" rx="73.5" ry="72.7" fill="#000" filter="url(#spkR)"/>
<ellipse cx="1101.6" cy="966.2" rx="73.5" ry="72.7" fill="#000" filter="url(#spkW)"/>
<path d="M1100.1 956L1090.7 940.4M1100.1 956L1112.6 945.1M1100.1 956L1087.6 951.3M1100.1 956L1118.8 962.3M1100.1 956L1103.2 963.8M1100.1 956L1093.8 979.5M1100.1 956L1087.6 967" stroke="#9ad456" stroke-width="2.2" fill="none" stroke-linecap="round"/>
<path d="M1101.6 951.3L1103.2 879.4M1101.6 951.3L1120.4 879.4" stroke="#a6cf6a" stroke-width="1.5" fill="none" stroke-linecap="round"/>
<g fill="url(#leafR)" stroke="#74b03a" stroke-width=".7"><path transform="translate(1090.7 940.4) rotate(-121.6)" d="M0 0C3.8 -5.9 13.4 -10.8 26.7 -10.8C41.1 -10.8 47.7 -5.9 47.7 0C47.7 5.9 41.1 10.8 26.7 10.8C13.4 10.8 3.8 5.9 0 0Z"/><path transform="translate(1112.6 945.1) rotate(-42.6)" d="M0 0C4.2 -6.3 14.9 -11.4 29.7 -11.4C45.7 -11.4 53.1 -6.3 53.1 0C53.1 6.3 45.7 11.4 29.7 11.4C14.9 11.4 4.2 6.3 0 0Z"/><path transform="translate(1107.9 901.3) rotate(31.4)" d="M0 0C2.6 -3.7 9.2 -6.7 18.5 -6.7C28.4 -6.7 33 -3.7 33 0C33 3.7 28.4 6.7 18.5 6.7C9.2 6.7 2.6 3.7 0 0Z"/><path transform="translate(1087.6 951.3) rotate(-173.6)" d="M0 0C4.5 -6.3 15.6 -11.4 31.3 -11.4C48 -11.4 55.9 -6.3 55.9 0C55.9 6.3 48 11.4 31.3 11.4C15.6 11.4 4.5 6.3 0 0Z"/><path transform="translate(1118.8 962.3) rotate(10)" d="M0 0C3.6 -5.5 12.7 -10.1 25.3 -10.1C38.9 -10.1 45.2 -5.5 45.2 0C45.2 5.5 38.9 10.1 25.3 10.1C12.7 10.1 3.6 5.5 0 0Z"/><path transform="translate(1103.2 963.8) rotate(52)" d="M0 0C3.7 -5.5 12.8 -10.1 25.6 -10.1C39.3 -10.1 45.7 -5.5 45.7 0C45.7 5.5 39.3 10.1 25.6 10.1C12.8 10.1 3.7 5.5 0 0Z"/><path transform="translate(1093.8 979.5) rotate(97.4)" d="M0 0C3.9 -6.3 13.7 -11.4 27.4 -11.4C42 -11.4 48.9 -6.3 48.9 0C48.9 6.3 42 11.4 27.4 11.4C13.7 11.4 3.9 6.3 0 0Z"/><path transform="translate(1087.6 967) rotate(173.3)" d="M0 0C2.1 -3.3 7.5 -6.1 15 -6.1C23 -6.1 26.8 -3.3 26.8 0C26.8 3.3 23 6.1 15 6.1C7.5 6.1 2.1 3.3 0 0Z"/></g>
<path d="M1090.7 940.4L1070.7 907.8M1112.6 945.1L1143.9 916.3M1107.9 901.3L1130.4 915M1087.6 951.3L1043.2 946.3M1118.8 962.3L1154.5 968.5M1103.2 963.8L1125.7 992.6M1093.8 979.5L1088.8 1018.2M1087.6 967L1066.3 969.5" stroke="#bfe888" stroke-width="1" fill="none" opacity=".8"/>
<rect x="1022.7" y="1039.2" width="45.3" height="3.6" fill="#fff"/>
</g>
<clipPath id="cR22"><rect x="1195.2" y="878.6" width="176.7" height="172.8"/></clipPath>
<g clip-path="url(#cR22)">
<rect x="1195.2" y="878.6" width="176.7" height="172.8" fill="#cfcfd0"/>
<rect x="1197.2" y="881.1" width="173.7" height="168.8" fill="url(#bgR)"/>
<circle cx="1283.1" cy="966.6" r="84.9" fill="#d97a32"/>
<circle cx="1283.1" cy="966.6" r="83.6" fill="none" stroke="#eb9a58" stroke-width="1.2" opacity=".8"/>
<circle cx="1283.1" cy="966.6" r="79.9" fill="#b85a26"/>
<ellipse cx="1282.8" cy="963.9" rx="82.3" ry="80" fill="#843a16" opacity=".45"/>
<ellipse cx="1284.3" cy="965.4" rx="78.3" ry="76" fill="#843a16" opacity=".9"/>
<ellipse cx="1284.3" cy="965.4" rx="75.8" ry="73.5" fill="url(#soilG)"/>
<ellipse cx="1284.3" cy="965.4" rx="75.8" ry="73.5" fill="#000" filter="url(#spk0)"/>
<ellipse cx="1284.3" cy="965.4" rx="75.8" ry="73.5" fill="#000" filter="url(#spkR)"/>
<ellipse cx="1284.3" cy="965.4" rx="75.8" ry="73.5" fill="#000" filter="url(#spkW)"/>
<path d="M1278.8 951.3L1260.1 945.1M1278.8 951.3L1278.8 931M1278.8 951.3L1288.2 929.4M1278.8 951.3L1292.9 945.1M1278.8 951.3L1297.6 954.4M1278.8 951.3L1258.5 963.8M1278.8 951.3L1269.4 971.6M1278.8 951.3L1286.6 971.6M1278.8 951.3L1297.6 1010.7" stroke="#9ad456" stroke-width="2.2" fill="none" stroke-linecap="round"/>
<path d="M1278.8 954.4L1269.4 1051.4M1278.8 957.6L1286.6 1051.4" stroke="#a6cf6a" stroke-width="1.5" fill="none" stroke-linecap="round"/>
<g fill="url(#leafR)" stroke="#74b03a" stroke-width=".7"><path transform="translate(1260.1 945.1) rotate(-161.6)" d="M0 0C4.4 -6.7 15.2 -12.1 30.5 -12.1C46.8 -12.1 54.4 -6.7 54.4 0C54.4 6.7 46.8 12.1 30.5 12.1C15.2 12.1 4.4 6.7 0 0Z"/><path transform="translate(1278.8 931) rotate(-94.2)" d="M0 0C1.7 -4.1 5.9 -7.4 11.9 -7.4C18.2 -7.4 21.2 -4.1 21.2 0C21.2 4.1 18.2 7.4 11.9 7.4C5.9 7.4 1.7 4.1 0 0Z"/><path transform="translate(1288.2 929.4) rotate(-65.6)" d="M0 0C3 -5.5 10.6 -10.1 21.2 -10.1C32.5 -10.1 37.8 -5.5 37.8 0C37.8 5.5 32.5 10.1 21.2 10.1C10.6 10.1 3 5.5 0 0Z"/><path transform="translate(1292.9 945.1) rotate(-19.8)" d="M0 0C3.3 -5.5 11.6 -10.1 23.3 -10.1C35.7 -10.1 41.5 -5.5 41.5 0C41.5 5.5 35.7 10.1 23.3 10.1C11.6 10.1 3.3 5.5 0 0Z"/><path transform="translate(1297.6 954.4) rotate(13.4)" d="M0 0C2.7 -4.8 9.5 -8.7 18.9 -8.7C29 -8.7 33.8 -4.8 33.8 0C33.8 4.8 29 8.7 18.9 8.7C9.5 8.7 2.7 4.8 0 0Z"/><path transform="translate(1258.5 963.8) rotate(159.1)" d="M0 0C2.8 -6.3 9.8 -11.4 19.7 -11.4C30.2 -11.4 35.1 -6.3 35.1 0C35.1 6.3 30.2 11.4 19.7 11.4C9.8 11.4 2.8 6.3 0 0Z"/><path transform="translate(1269.4 971.6) rotate(149)" d="M0 0C2.2 -4.8 7.7 -8.7 15.3 -8.7C23.5 -8.7 27.4 -4.8 27.4 0C27.4 4.8 23.5 8.7 15.3 8.7C7.7 8.7 2.2 4.8 0 0Z"/><path transform="translate(1286.6 971.6) rotate(60.5)" d="M0 0C3.3 -6.3 11.6 -11.4 23.1 -11.4C35.5 -11.4 41.3 -6.3 41.3 0C41.3 6.3 35.5 11.4 23.1 11.4C11.6 11.4 3.3 6.3 0 0Z"/><path transform="translate(1297.6 1010.7) rotate(132.3)" d="M0 0C1.9 -3.3 6.5 -6.1 13 -6.1C20 -6.1 23.2 -3.3 23.2 0C23.2 3.3 20 6.1 13 6.1C6.5 6.1 1.9 3.3 0 0Z"/></g>
<path d="M1260.1 945.1L1218.8 931.3M1278.8 931L1277.6 914.1M1288.2 929.4L1300.7 901.9M1292.9 945.1L1324.2 933.8M1297.6 954.4L1323.9 960.7M1258.5 963.8L1232.2 973.8M1269.4 971.6L1250.7 982.9M1286.6 971.6L1302.9 1000.4M1297.6 1010.7L1285.1 1024.5" stroke="#bfe888" stroke-width="1" fill="none" opacity=".8"/>
<rect x="1202.2" y="1039.2" width="45.3" height="3.6" fill="#fff"/>
</g>
<clipPath id="cR23"><rect x="1377.5" y="879.1" width="175.9" height="172.6"/></clipPath>
<g clip-path="url(#cR23)">
<rect x="1377.5" y="879.1" width="175.9" height="172.6" fill="#cfcfd0"/>
<rect x="1379.5" y="881.6" width="172.9" height="168.6" fill="url(#bgR)"/>
<circle cx="1465.5" cy="966.5" r="84.8" fill="#d97a32"/>
<circle cx="1465.5" cy="966.5" r="83.5" fill="none" stroke="#eb9a58" stroke-width="1.2" opacity=".8"/>
<circle cx="1465.5" cy="966.5" r="79.8" fill="#b85a26"/>
<ellipse cx="1467.1" cy="965.5" rx="80.4" ry="79.9" fill="#843a16" opacity=".45"/>
<ellipse cx="1468.6" cy="967" rx="76.4" ry="75.9" fill="#843a16" opacity=".9"/>
<ellipse cx="1468.6" cy="967" rx="73.9" ry="73.4" fill="url(#soilG)"/>
<ellipse cx="1468.6" cy="967" rx="73.9" ry="73.4" fill="#000" filter="url(#spk0)"/>
<ellipse cx="1468.6" cy="967" rx="73.9" ry="73.4" fill="#000" filter="url(#spkR)"/>
<ellipse cx="1468.6" cy="967" rx="73.9" ry="73.4" fill="#000" filter="url(#spkW2)"/>
<path d="M1463.5 962.3L1460.4 948.2M1463.5 962.3L1447.9 943.5M1463.5 962.3L1472.9 945.1M1463.5 962.3L1474.5 957.6M1463.5 962.3L1477.6 970.1M1463.5 962.3L1446.3 963.8M1463.5 962.3L1455.7 973.2M1463.5 962.3L1462 979.5M1463.5 962.3L1471.3 979.5" stroke="#9ad456" stroke-width="2.2" fill="none" stroke-linecap="round"/>
<path d="M1521.4 958.4L1551.1 958.4" stroke="#a6cf6a" stroke-width="1.5" fill="none" stroke-linecap="round"/>
<g fill="url(#leafR)" stroke="#74b03a" stroke-width=".7"><path transform="translate(1460.4 948.2) rotate(-99)" d="M0 0C4 -5.9 14 -10.8 27.9 -10.8C42.9 -10.8 49.9 -5.9 49.9 0C49.9 5.9 42.9 10.8 27.9 10.8C14 10.8 4 5.9 0 0Z"/><path transform="translate(1447.9 943.5) rotate(-151.4)" d="M0 0C1.6 -3.7 5.5 -6.7 11 -6.7C16.9 -6.7 19.6 -3.7 19.6 0C19.6 3.7 16.9 6.7 11 6.7C5.5 6.7 1.6 3.7 0 0Z"/><path transform="translate(1472.9 945.1) rotate(-59.7)" d="M0 0C1.7 -3.3 6.1 -6.1 12.2 -6.1C18.7 -6.1 21.7 -3.3 21.7 0C21.7 3.3 18.7 6.1 12.2 6.1C6.1 6.1 1.7 3.3 0 0Z"/><path transform="translate(1474.5 957.6) rotate(-24.8)" d="M0 0C3.6 -5.9 12.5 -10.8 25.1 -10.8C38.5 -10.8 44.8 -5.9 44.8 0C44.8 5.9 38.5 10.8 25.1 10.8C12.5 10.8 3.6 5.9 0 0Z"/><path transform="translate(1477.6 970.1) rotate(-13.2)" d="M0 0C4.4 -6.3 15.3 -11.4 30.6 -11.4C47 -11.4 54.6 -6.3 54.6 0C54.6 6.3 47 11.4 30.6 11.4C15.3 11.4 4.4 6.3 0 0Z"/><path transform="translate(1446.3 963.8) rotate(175.1)" d="M0 0C3 -5.5 10.3 -10.1 20.7 -10.1C31.7 -10.1 36.9 -5.5 36.9 0C36.9 5.5 31.7 10.1 20.7 10.1C10.3 10.1 3 5.5 0 0Z"/><path transform="translate(1455.7 973.2) rotate(133.8)" d="M0 0C4.2 -6.7 14.6 -12.1 29.1 -12.1C44.7 -12.1 52 -6.7 52 0C52 6.7 44.7 12.1 29.1 12.1C14.6 12.1 4.2 6.7 0 0Z"/><path transform="translate(1462 979.5) rotate(96.3)" d="M0 0C2.3 -4.1 7.9 -7.4 15.9 -7.4C24.4 -7.4 28.3 -4.1 28.3 0C28.3 4.1 24.4 7.4 15.9 7.4C7.9 7.4 2.3 4.1 0 0Z"/><path transform="translate(1471.3 979.5) rotate(49.4)" d="M0 0C2.3 -4.8 8.1 -8.7 16.1 -8.7C24.8 -8.7 28.8 -4.8 28.8 0C28.8 4.8 24.8 8.7 16.1 8.7C8.1 8.7 2.3 4.8 0 0Z"/></g>
<path d="M1460.4 948.2L1454.1 908.8M1447.9 943.5L1434.1 936M1472.9 945.1L1481.7 930M1474.5 957.6L1507 942.6M1477.6 970.1L1520.1 960.1M1446.3 963.8L1416.9 966.3M1455.7 973.2L1426.9 1003.2M1462 979.5L1459.4 1002M1471.3 979.5L1486.3 997" stroke="#bfe888" stroke-width="1" fill="none" opacity=".8"/>
<rect x="1383.5" y="1039.2" width="45.3" height="3.6" fill="#fff"/>
</g>
<clipPath id="cR31"><rect x="1010.5" y="1063.5" width="176.2" height="173.3"/></clipPath>
<g clip-path="url(#cR31)">
<rect x="1010.5" y="1063.5" width="176.2" height="173.3" fill="#cfcfd0"/>
<rect x="1012.5" y="1066" width="173.2" height="169.3" fill="url(#bgR)"/>
<circle cx="1098.6" cy="1149.8" r="83.2" fill="#d97a32"/>
<circle cx="1098.6" cy="1149.8" r="81.9" fill="none" stroke="#eb9a58" stroke-width="1.2" opacity=".8"/>
<circle cx="1098.6" cy="1149.8" r="78.2" fill="#b85a26"/>
<ellipse cx="1098.3" cy="1149" rx="77.8" ry="78.9" fill="#843a16" opacity=".45"/>
<ellipse cx="1099.8" cy="1150.5" rx="73.8" ry="74.9" fill="#843a16" opacity=".9"/>
<ellipse cx="1099.8" cy="1150.5" rx="71.3" ry="72.4" fill="url(#soilG)"/>
<ellipse cx="1099.8" cy="1150.5" rx="71.3" ry="72.4" fill="#000" filter="url(#spk0)"/>
<ellipse cx="1099.8" cy="1150.5" rx="71.3" ry="72.4" fill="#000" filter="url(#spkR)"/>
<ellipse cx="1099.8" cy="1150.5" rx="71.3" ry="72.4" fill="#000" filter="url(#spkW2)"/>
<path d="M1100.1 1147.4L1103.2 1124.3M1100.1 1147.4L1092.4 1136.6M1100.1 1147.4L1117.1 1155.1M1100.1 1147.4L1106.3 1150.5M1100.1 1147.4L1089.3 1152M1100.1 1147.4L1095.5 1162.8" stroke="#9ad456" stroke-width="2.2" fill="none" stroke-linecap="round"/>
<path d="M1095.5 1145.9L1012.3 1175.1" stroke="#a6cf6a" stroke-width="1.5" fill="none" stroke-linecap="round"/>
<g fill="url(#leafR)" stroke="#74b03a" stroke-width=".7"><path transform="translate(1103.2 1124.3) rotate(-86.9)" d="M0 0C2.3 -4.7 8 -8.6 16 -8.6C24.5 -8.6 28.5 -4.7 28.5 0C28.5 4.7 24.5 8.6 16 8.6C8 8.6 2.3 4.7 0 0Z"/><path transform="translate(1092.4 1136.6) rotate(-142.1)" d="M0 0C2.8 -5.1 9.8 -9.3 19.7 -9.3C30.2 -9.3 35.1 -5.1 35.1 0C35.1 5.1 30.2 9.3 19.7 9.3C9.8 9.3 2.8 5.1 0 0Z"/><path transform="translate(1117.1 1155.1) rotate(13)" d="M0 0C1.6 -4 5.8 -7.3 11.5 -7.3C17.7 -7.3 20.6 -4 20.6 0C20.6 4 17.7 7.3 11.5 7.3C5.8 7.3 1.6 4 0 0Z"/><path transform="translate(1106.3 1150.5) rotate(23.2)" d="M0 0C0.9 -2.9 3.3 -5.3 6.6 -5.3C10.1 -5.3 11.7 -2.9 11.7 0C11.7 2.9 10.1 5.3 6.6 5.3C3.3 5.3 0.9 2.9 0 0Z"/><path transform="translate(1089.3 1152) rotate(166)" d="M0 0C1 -2.9 3.6 -5.3 7.1 -5.3C10.9 -5.3 12.7 -2.9 12.7 0C12.7 2.9 10.9 5.3 7.1 5.3C3.6 5.3 1 2.9 0 0Z"/><path transform="translate(1095.5 1162.8) rotate(111.8)" d="M0 0C2.7 -5.1 9.3 -9.3 18.6 -9.3C28.5 -9.3 33.2 -5.1 33.2 0C33.2 5.1 28.5 9.3 18.6 9.3C9.3 9.3 2.7 5.1 0 0Z"/><path transform="translate(1012.3 1150.5) rotate(24.8)" d="M0 0C1.8 -4.4 6.2 -7.9 12.4 -7.9C19 -7.9 22.1 -4.4 22.1 0C22.1 4.4 19 7.9 12.4 7.9C6.2 7.9 1.8 4.4 0 0Z"/></g>
<path d="M1103.2 1124.3L1104.4 1101.5M1092.4 1136.6L1070.2 1119.4M1117.1 1155.1L1133.1 1158.8M1106.3 1150.5L1114.9 1154.2M1089.3 1152L1079.5 1154.5M1095.5 1162.8L1085.6 1187.5M1012.3 1150.5L1028.3 1157.9" stroke="#bfe888" stroke-width="1" fill="none" opacity=".8"/>
<rect x="1022.3" y="1224.4" width="45.5" height="3.9" fill="#fff"/>
</g>
<clipPath id="cR32"><rect x="1195" y="1061.9" width="176.7" height="174.9"/></clipPath>
<g clip-path="url(#cR32)">
<rect x="1195" y="1061.9" width="176.7" height="174.9" fill="#cfcfd0"/>
<rect x="1197" y="1064.4" width="173.7" height="170.9" fill="url(#bgR)"/>
<circle cx="1283.6" cy="1149.3" r="84.7" fill="#d97a32"/>
<circle cx="1283.6" cy="1149.3" r="83.4" fill="none" stroke="#eb9a58" stroke-width="1.2" opacity=".8"/>
<circle cx="1283.6" cy="1149.3" r="79.7" fill="#b85a26"/>
<ellipse cx="1282.1" cy="1146" rx="82" ry="80.5" fill="#843a16" opacity=".45"/>
<ellipse cx="1283.6" cy="1147.5" rx="78" ry="76.5" fill="#843a16" opacity=".9"/>
<ellipse cx="1283.6" cy="1147.5" rx="75.5" ry="74" fill="url(#soilG)"/>
<ellipse cx="1283.6" cy="1147.5" rx="75.5" ry="74" fill="#000" filter="url(#spk0)"/>
<ellipse cx="1283.6" cy="1147.5" rx="75.5" ry="74" fill="#000" filter="url(#spkR)"/>
<ellipse cx="1283.6" cy="1147.5" rx="75.5" ry="74" fill="#000" filter="url(#spkW2)"/>
<path d="M1279 1153.6L1292.8 1142.8M1279 1153.6L1271.3 1156.7M1279 1153.6L1279 1141.3M1279 1153.6L1279 1147.4M1279 1153.6L1289.7 1155.1M1279 1153.6L1274.3 1161.3M1279 1153.6L1277.4 1162.8M1279 1153.6L1289.7 1165.9" stroke="#9ad456" stroke-width="2.2" fill="none" stroke-linecap="round"/>
<path d="M1277.4 1150.5L1197.3 1064.2M1277.4 1150.5L1197.3 1090.4" stroke="#a6cf6a" stroke-width="1.5" fill="none" stroke-linecap="round"/>
<g fill="url(#leafR)" stroke="#74b03a" stroke-width=".7"><path transform="translate(1292.8 1142.8) rotate(-36.9)" d="M0 0C3.7 -6.2 12.9 -11.3 25.9 -11.3C39.7 -11.3 46.2 -6.2 46.2 0C46.2 6.2 39.7 11.3 25.9 11.3C12.9 11.3 3.7 6.2 0 0Z"/><path transform="translate(1271.3 1156.7) rotate(180)" d="M0 0C3 -5.5 10.4 -9.9 20.7 -9.9C31.8 -9.9 37 -5.5 37 0C37 5.5 31.8 9.9 20.7 9.9C10.4 9.9 3 5.5 0 0Z"/><path transform="translate(1279 1141.3) rotate(-94.8)" d="M0 0C1.5 -2.9 5.2 -5.3 10.4 -5.3C16 -5.3 18.5 -2.9 18.5 0C18.5 2.9 16 5.3 10.4 5.3C5.2 5.3 1.5 2.9 0 0Z"/><path transform="translate(1279 1147.4) rotate(-82.9)" d="M0 0C1 -2.2 3.5 -4 7 -4C10.7 -4 12.4 -2.2 12.4 0C12.4 2.2 10.7 4 7 4C3.5 4 1 2.2 0 0Z"/><path transform="translate(1289.7 1155.1) rotate(15.3)" d="M0 0C1.4 -3.3 4.9 -6 9.8 -6C15.1 -6 17.6 -3.3 17.6 0C17.6 3.3 15.1 6 9.8 6C4.9 6 1.4 3.3 0 0Z"/><path transform="translate(1274.3 1161.3) rotate(163.3)" d="M0 0C1.3 -2.9 4.5 -5.3 9 -5.3C13.8 -5.3 16.1 -2.9 16.1 0C16.1 2.9 13.8 5.3 9 5.3C4.5 5.3 1.3 2.9 0 0Z"/><path transform="translate(1277.4 1162.8) rotate(92)" d="M0 0C3.5 -5.5 12.1 -9.9 24.2 -9.9C37.1 -9.9 43.2 -5.5 43.2 0C43.2 5.5 37.1 9.9 24.2 9.9C12.1 9.9 3.5 5.5 0 0Z"/><path transform="translate(1289.7 1165.9) rotate(53.7)" d="M0 0C2.3 -3.6 8 -6.6 16 -6.6C24.6 -6.6 28.7 -3.6 28.7 0C28.7 3.6 24.6 6.6 16 6.6C8 6.6 2.3 3.6 0 0Z"/><path transform="translate(1228.1 1113.5) rotate(140.7)" d="M0 0C1.8 -3.3 6.1 -6 12.3 -6C18.8 -6 21.9 -3.3 21.9 0C21.9 3.3 18.8 6 12.3 6C6.1 6 1.8 3.3 0 0Z"/></g>
<path d="M1292.8 1142.8L1322.4 1120.6M1271.3 1156.7L1241.7 1156.7M1279 1141.3L1277.7 1126.5M1279 1147.4L1280.2 1137.6M1289.7 1155.1L1303.3 1158.8M1274.3 1161.3L1262 1165M1277.4 1162.8L1276.2 1197.3M1289.7 1165.9L1303.3 1184.4M1228.1 1113.5L1214.6 1124.6" stroke="#bfe888" stroke-width="1" fill="none" opacity=".8"/>
<rect x="1203.5" y="1224.4" width="45.4" height="3.9" fill="#fff"/>
</g>
<clipPath id="cR33"><rect x="1376.6" y="1063.5" width="176.6" height="173.3"/></clipPath>
<g clip-path="url(#cR33)">
<rect x="1376.6" y="1063.5" width="176.6" height="173.3" fill="#cfcfd0"/>
<rect x="1378.6" y="1066" width="173.6" height="169.3" fill="url(#bgR)"/>
<circle cx="1464.2" cy="1151.6" r="85" fill="#d97a32"/>
<circle cx="1464.2" cy="1151.6" r="83.7" fill="none" stroke="#eb9a58" stroke-width="1.2" opacity=".8"/>
<circle cx="1464.2" cy="1151.6" r="80" fill="#b85a26"/>
<ellipse cx="1464.4" cy="1146.7" rx="82.8" ry="81.2" fill="#843a16" opacity=".45"/>
<ellipse cx="1465.9" cy="1148.2" rx="78.8" ry="77.2" fill="#843a16" opacity=".9"/>
<ellipse cx="1465.9" cy="1148.2" rx="76.3" ry="74.7" fill="url(#soilG)"/>
<ellipse cx="1465.9" cy="1148.2" rx="76.3" ry="74.7" fill="#000" filter="url(#spk0)"/>
<ellipse cx="1465.9" cy="1148.2" rx="76.3" ry="74.7" fill="#000" filter="url(#spkR)"/>
<ellipse cx="1465.9" cy="1148.2" rx="76.3" ry="74.7" fill="#000" filter="url(#spkW2)"/>
<path d="M1462 1150.5L1455.9 1136.6M1462 1150.5L1465.1 1141.3M1462 1150.5L1460.5 1149M1462 1150.5L1457.4 1165.9M1462 1150.5L1466.7 1162.8" stroke="#9ad456" stroke-width="2.2" fill="none" stroke-linecap="round"/>
<path d="M1462 1150.5L1509.8 1236.8M1475.9 1176.7L1552.2 1202.9" stroke="#a6cf6a" stroke-width="1.5" fill="none" stroke-linecap="round"/>
<g fill="url(#leafR)" stroke="#74b03a" stroke-width=".7"><path transform="translate(1455.9 1136.6) rotate(-122.9)" d="M0 0C2.5 -4.4 8.7 -7.9 17.5 -7.9C26.8 -7.9 31.2 -4.4 31.2 0C31.2 4.4 26.8 7.9 17.5 7.9C8.7 7.9 2.5 4.4 0 0Z"/><path transform="translate(1465.1 1141.3) rotate(-50.2)" d="M0 0C1 -2.6 3.4 -4.6 6.7 -4.6C10.3 -4.6 12 -2.6 12 0C12 2.6 10.3 4.6 6.7 4.6C3.4 4.6 1 2.6 0 0Z"/><path transform="translate(1460.5 1149) rotate(180)" d="M0 0C0.7 -2.2 2.6 -4 5.2 -4C7.9 -4 9.2 -2.2 9.2 0C9.2 2.2 7.9 4 5.2 4C2.6 4 0.7 2.2 0 0Z"/><path transform="translate(1457.4 1165.9) rotate(122.9)" d="M0 0C2.5 -5.1 8.7 -9.3 17.5 -9.3C26.8 -9.3 31.2 -5.1 31.2 0C31.2 5.1 26.8 9.3 17.5 9.3C8.7 9.3 2.5 5.1 0 0Z"/><path transform="translate(1466.7 1162.8) rotate(45)" d="M0 0C1 -2.9 3.7 -5.3 7.3 -5.3C11.2 -5.3 13.1 -2.9 13.1 0C13.1 2.9 11.2 5.3 7.3 5.3C3.7 5.3 1 2.9 0 0Z"/><path transform="translate(1488.2 1176.7) rotate(-39.3)" d="M0 0C1.8 -3.6 6.1 -6.6 12.3 -6.6C18.8 -6.6 21.9 -3.6 21.9 0C21.9 3.6 18.8 6.6 12.3 6.6C6.1 6.6 1.8 3.6 0 0Z"/><path transform="translate(1519 1193.6) rotate(-45)" d="M0 0C1.4 -3.3 4.9 -6 9.8 -6C15 -6 17.4 -3.3 17.4 0C17.4 3.3 15 6 9.8 6C4.9 6 1.4 3.3 0 0Z"/><path transform="translate(1539.1 1207.5) rotate(56.3)" d="M0 0C1.3 -2.6 4.7 -4.6 9.3 -4.6C14.3 -4.6 16.7 -2.6 16.7 0C16.7 2.6 14.3 4.6 9.3 4.6C4.7 4.6 1.3 2.6 0 0Z"/></g>
<path d="M1455.9 1136.6L1442.3 1115.7M1465.1 1141.3L1471.3 1133.9M1460.5 1149L1453.1 1149M1457.4 1165.9L1443.9 1186.9M1466.7 1162.8L1474.1 1170.2M1488.2 1176.7L1501.8 1165.6M1519 1193.6L1528.9 1183.8M1539.1 1207.5L1546.5 1218.6" stroke="#bfe888" stroke-width="1" fill="none" opacity=".8"/>
<rect x="1383.2" y="1224.4" width="45.7" height="3.9" fill="#fff"/>
</g>
<text transform="translate(121.8 854.8) rotate(-90)" font-size="35.5" textLength="152.5" lengthAdjust="spacingAndGlyphs">PsJN-VOCs</text>
<text transform="translate(121.8 997.6) rotate(-90)" font-size="35.5" textLength="64.2" lengthAdjust="spacingAndGlyphs">PsJN</text>
<text transform="translate(126.8 1172.2) rotate(-90)" font-size="35.5" textLength="56" lengthAdjust="spacingAndGlyphs">N. I.</text>
<text transform="translate(52.1 1026.2) rotate(-90)" font-size="44" textLength="126.5" lengthAdjust="spacingAndGlyphs">28 DAS</text>
<text transform="translate(970.3 851.7) rotate(-90)" font-size="35.5" textLength="151.5" lengthAdjust="spacingAndGlyphs">PsJN-VOCs</text>
<text transform="translate(970.2 994.3) rotate(-90)" font-size="35.5" textLength="64.6" lengthAdjust="spacingAndGlyphs">PsJN</text>
<text transform="translate(974.3 1167.8) rotate(-90)" font-size="35.5" textLength="55.6" lengthAdjust="spacingAndGlyphs">N. I.</text>
<text transform="translate(898 1021.2) rotate(-90)" font-size="44" textLength="128" lengthAdjust="spacingAndGlyphs">36 DAS</text>
</svg>
</body></html>
